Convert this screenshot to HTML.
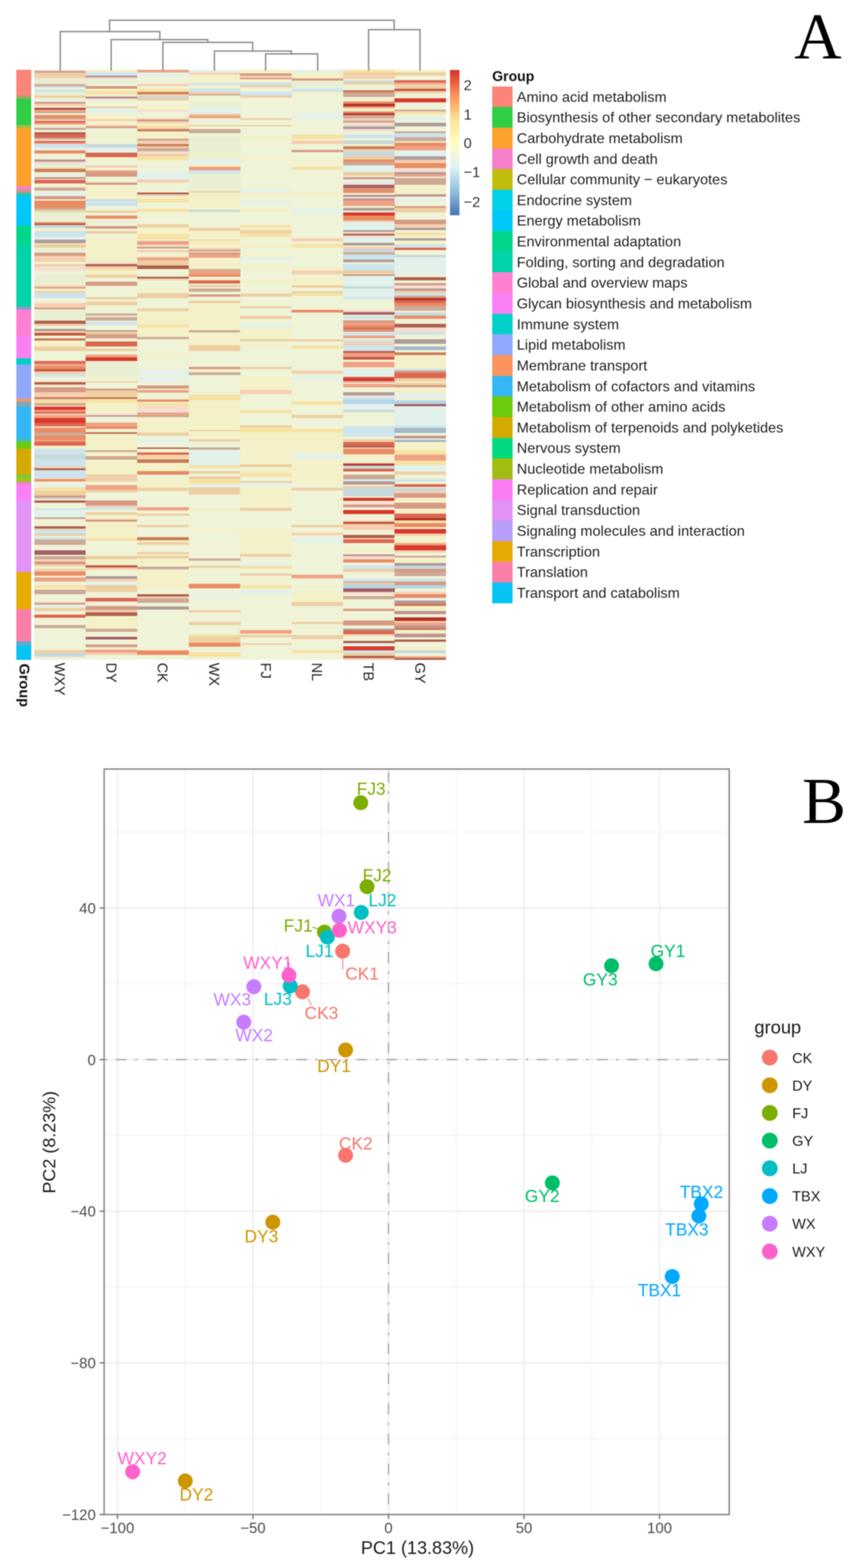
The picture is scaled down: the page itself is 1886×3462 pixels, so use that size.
<!DOCTYPE html><html><head><meta charset="utf-8"><title>Heatmap and PCA</title><style>html,body{margin:0;padding:0;background:#fff;}body{width:1886px;height:3462px;overflow:hidden;}</style></head><body><svg width="1886" height="3462" viewBox="0 0 1886 3462" style="display:block;filter:blur(1px)">
<rect x="0" y="0" width="1886" height="3462" fill="#ffffff"/>
<rect x="75.5" y="154.4" width="909.5" height="1302.1" fill="#EFF3D7"/>
<g shape-rendering="crispEdges"><rect x="75.50" y="154.40" width="113.99" height="3.14" fill="#F5DDD0"/><rect x="75.50" y="157.24" width="113.99" height="3.54" fill="#BE9393"/><rect x="75.50" y="160.49" width="113.99" height="5.16" fill="#EDCFA2"/><rect x="75.50" y="165.35" width="113.99" height="8.41" fill="#F6CFB0"/><rect x="75.50" y="173.46" width="113.99" height="10.03" fill="#E9EFD3"/><rect x="75.50" y="183.18" width="113.99" height="3.54" fill="#F5DDD0"/><rect x="75.50" y="186.43" width="113.99" height="3.54" fill="#CDAA96"/><rect x="75.50" y="189.67" width="113.99" height="3.54" fill="#C6D8DA"/><rect x="75.50" y="197.77" width="113.99" height="5.16" fill="#CDE4EC"/><rect x="75.50" y="202.64" width="113.99" height="8.41" fill="#E9EFD3"/><rect x="75.50" y="210.74" width="113.99" height="5.16" fill="#EDCFA2"/><rect x="75.50" y="215.61" width="113.99" height="3.54" fill="#F4F1C9"/><rect x="75.50" y="218.85" width="113.99" height="6.79" fill="#E3F1EB"/><rect x="75.50" y="225.34" width="113.99" height="4.19" fill="#D69A84"/><rect x="75.50" y="229.23" width="113.99" height="4.52" fill="#F6CFB0"/><rect x="75.50" y="236.68" width="113.99" height="2.57" fill="#CDAA96"/><rect x="75.50" y="238.95" width="113.99" height="3.54" fill="#B3322A"/><rect x="75.50" y="242.20" width="113.99" height="4.52" fill="#EFA283"/><rect x="75.50" y="246.41" width="113.99" height="3.54" fill="#CDAA96"/><rect x="75.50" y="253.55" width="113.99" height="7.76" fill="#E98C64"/><rect x="75.50" y="261.00" width="113.99" height="3.54" fill="#CDAA96"/><rect x="75.50" y="264.25" width="113.99" height="3.54" fill="#F6CFB0"/><rect x="75.50" y="267.49" width="113.99" height="4.19" fill="#DD6650"/><rect x="75.50" y="271.38" width="113.99" height="3.87" fill="#EFA283"/><rect x="75.50" y="274.95" width="113.99" height="7.43" fill="#E9EFD3"/><rect x="75.50" y="282.08" width="113.99" height="5.16" fill="#CDAA96"/><rect x="75.50" y="291.81" width="113.99" height="5.16" fill="#B0604C"/><rect x="75.50" y="296.67" width="113.99" height="7.43" fill="#DD6650"/><rect x="75.50" y="303.81" width="113.99" height="4.52" fill="#CDAA96"/><rect x="75.50" y="311.26" width="113.99" height="4.19" fill="#DD6650"/><rect x="75.50" y="315.15" width="113.99" height="2.89" fill="#EFA283"/><rect x="75.50" y="317.75" width="113.99" height="8.41" fill="#CDE4EC"/><rect x="75.50" y="325.85" width="113.99" height="6.79" fill="#E3F1EB"/><rect x="75.50" y="332.34" width="113.99" height="6.79" fill="#E98C64"/><rect x="75.50" y="351.80" width="113.99" height="5.16" fill="#BE9393"/><rect x="75.50" y="356.66" width="113.99" height="5.16" fill="#F5DDD0"/><rect x="75.50" y="361.52" width="113.99" height="8.41" fill="#E9EFD3"/><rect x="75.50" y="369.63" width="113.99" height="3.54" fill="#F6CFB0"/><rect x="75.50" y="372.87" width="113.99" height="7.43" fill="#C87C58"/><rect x="189.19" y="154.40" width="113.99" height="6.39" fill="#F4F1C9"/><rect x="189.19" y="160.49" width="113.99" height="6.79" fill="#CDE4EC"/><rect x="189.19" y="166.97" width="113.99" height="4.19" fill="#BE9393"/><rect x="189.19" y="170.86" width="113.99" height="4.52" fill="#F5DDD0"/><rect x="189.19" y="175.08" width="113.99" height="10.03" fill="#E9EFD3"/><rect x="189.19" y="189.67" width="113.99" height="6.79" fill="#D69A84"/><rect x="189.19" y="196.15" width="113.99" height="5.16" fill="#F4F1C9"/><rect x="189.19" y="201.02" width="113.99" height="8.41" fill="#F7E2A4"/><rect x="189.19" y="213.01" width="113.99" height="4.52" fill="#BE9393"/><rect x="189.19" y="235.06" width="113.99" height="4.19" fill="#EDCFA2"/><rect x="189.19" y="238.95" width="113.99" height="12.62" fill="#E3F1EB"/><rect x="189.19" y="251.28" width="113.99" height="11.65" fill="#F4F1C9"/><rect x="189.19" y="262.63" width="113.99" height="5.16" fill="#F6CFB0"/><rect x="189.19" y="267.49" width="113.99" height="8.41" fill="#F4F1C9"/><rect x="189.19" y="275.60" width="113.99" height="3.54" fill="#F6CFB0"/><rect x="189.19" y="278.84" width="113.99" height="4.19" fill="#D69A84"/><rect x="189.19" y="296.67" width="113.99" height="6.79" fill="#F4F1C9"/><rect x="189.19" y="317.75" width="113.99" height="8.41" fill="#C6D8DA"/><rect x="189.19" y="325.85" width="113.99" height="11.65" fill="#E3F1EB"/><rect x="189.19" y="337.20" width="113.99" height="10.03" fill="#DD6650"/><rect x="189.19" y="346.93" width="113.99" height="5.16" fill="#F4F1C9"/><rect x="189.19" y="364.77" width="113.99" height="5.16" fill="#F6CFB0"/><rect x="189.19" y="376.11" width="113.99" height="4.19" fill="#EFA283"/><rect x="302.88" y="154.40" width="113.99" height="6.39" fill="#EFA283"/><rect x="302.88" y="160.49" width="113.99" height="8.41" fill="#E3F1EB"/><rect x="302.88" y="184.80" width="113.99" height="5.16" fill="#F6CFB0"/><rect x="302.88" y="196.15" width="113.99" height="6.79" fill="#F7E2A4"/><rect x="302.88" y="202.64" width="113.99" height="5.16" fill="#C87C58"/><rect x="302.88" y="207.50" width="113.99" height="5.16" fill="#F6CFB0"/><rect x="302.88" y="212.37" width="113.99" height="4.19" fill="#C6D8DA"/><rect x="302.88" y="216.26" width="113.99" height="6.14" fill="#EDCFA2"/><rect x="302.88" y="231.82" width="113.99" height="10.03" fill="#F4F1C9"/><rect x="302.88" y="241.55" width="113.99" height="5.16" fill="#F5DDD0"/><rect x="302.88" y="261.00" width="113.99" height="3.54" fill="#F6CFB0"/><rect x="302.88" y="264.25" width="113.99" height="4.19" fill="#D69A84"/><rect x="302.88" y="268.14" width="113.99" height="4.52" fill="#F6CFB0"/><rect x="302.88" y="272.35" width="113.99" height="5.16" fill="#F4F1C9"/><rect x="302.88" y="277.22" width="113.99" height="5.16" fill="#F7E2A4"/><rect x="302.88" y="282.08" width="113.99" height="3.54" fill="#F6CFB0"/><rect x="302.88" y="285.32" width="113.99" height="4.52" fill="#C87C58"/><rect x="302.88" y="289.54" width="113.99" height="17.16" fill="#F4F1C9"/><rect x="302.88" y="306.40" width="113.99" height="5.16" fill="#CDAA96"/><rect x="302.88" y="311.26" width="113.99" height="6.79" fill="#F6CFB0"/><rect x="302.88" y="317.75" width="113.99" height="5.16" fill="#C87C58"/><rect x="302.88" y="322.61" width="113.99" height="5.16" fill="#F6CFB0"/><rect x="302.88" y="327.48" width="113.99" height="6.79" fill="#CDAA96"/><rect x="302.88" y="333.96" width="113.99" height="6.79" fill="#F5DDD0"/><rect x="302.88" y="340.45" width="113.99" height="5.16" fill="#EDCFA2"/><rect x="302.88" y="345.31" width="113.99" height="8.41" fill="#F7E2A4"/><rect x="416.56" y="154.40" width="113.99" height="6.39" fill="#E3F1EB"/><rect x="416.56" y="160.49" width="113.99" height="5.16" fill="#F6CFB0"/><rect x="416.56" y="165.35" width="113.99" height="18.13" fill="#F4F1C9"/><rect x="416.56" y="183.18" width="113.99" height="5.16" fill="#CDE4EC"/><rect x="416.56" y="188.05" width="113.99" height="6.79" fill="#F4F1C9"/><rect x="416.56" y="194.53" width="113.99" height="8.41" fill="#CDE4EC"/><rect x="416.56" y="202.64" width="113.99" height="5.16" fill="#EDCFA2"/><rect x="416.56" y="207.50" width="113.99" height="3.54" fill="#CDAA96"/><rect x="416.56" y="223.71" width="113.99" height="14.89" fill="#E9EFD3"/><rect x="416.56" y="238.31" width="113.99" height="13.27" fill="#E3F1EB"/><rect x="416.56" y="251.28" width="113.99" height="4.19" fill="#EDCFA2"/><rect x="416.56" y="255.17" width="113.99" height="6.14" fill="#EFA283"/><rect x="416.56" y="275.60" width="113.99" height="3.54" fill="#EDCFA2"/><rect x="416.56" y="285.32" width="113.99" height="8.41" fill="#CDAA96"/><rect x="416.56" y="303.16" width="113.99" height="39.21" fill="#E9EFD3"/><rect x="416.56" y="342.07" width="113.99" height="6.79" fill="#F4F1C9"/><rect x="416.56" y="348.55" width="113.99" height="13.27" fill="#E3F1EB"/><rect x="416.56" y="361.52" width="113.99" height="6.79" fill="#F4F1C9"/><rect x="416.56" y="368.01" width="113.99" height="8.41" fill="#EFA283"/><rect x="416.56" y="376.11" width="113.99" height="4.19" fill="#CDE4EC"/><rect x="530.25" y="154.40" width="113.99" height="8.01" fill="#F4F1C9"/><rect x="530.25" y="162.11" width="113.99" height="5.16" fill="#D69A84"/><rect x="530.25" y="166.97" width="113.99" height="5.16" fill="#F6CFB0"/><rect x="530.25" y="171.83" width="113.99" height="3.54" fill="#D69A84"/><rect x="530.25" y="175.08" width="113.99" height="6.79" fill="#F4F1C9"/><rect x="530.25" y="181.56" width="113.99" height="6.79" fill="#CDE4EC"/><rect x="530.25" y="188.05" width="113.99" height="5.16" fill="#EDCFA2"/><rect x="530.25" y="202.64" width="113.99" height="8.41" fill="#CDE4EC"/><rect x="530.25" y="210.74" width="113.99" height="5.16" fill="#EDCFA2"/><rect x="530.25" y="261.00" width="113.99" height="3.54" fill="#EDCFA2"/><rect x="530.25" y="275.60" width="113.99" height="3.54" fill="#EDCFA2"/><rect x="530.25" y="303.16" width="113.99" height="6.79" fill="#F4F1C9"/><rect x="530.25" y="348.55" width="113.99" height="5.16" fill="#F4F1C9"/><rect x="643.94" y="154.40" width="113.99" height="6.39" fill="#E3F1EB"/><rect x="643.94" y="160.49" width="113.99" height="13.27" fill="#F4F1C9"/><rect x="643.94" y="173.46" width="113.99" height="5.16" fill="#D69A84"/><rect x="643.94" y="178.32" width="113.99" height="18.13" fill="#E9EFD3"/><rect x="643.94" y="196.15" width="113.99" height="6.79" fill="#CDE4EC"/><rect x="643.94" y="202.64" width="113.99" height="6.79" fill="#F4F1C9"/><rect x="643.94" y="251.28" width="113.99" height="10.03" fill="#E3F1EB"/><rect x="643.94" y="296.67" width="113.99" height="10.03" fill="#F7E2A4"/><rect x="643.94" y="309.64" width="113.99" height="8.41" fill="#F6CFB0"/><rect x="643.94" y="330.72" width="113.99" height="5.16" fill="#D69A84"/><rect x="643.94" y="355.04" width="113.99" height="6.79" fill="#F4F1C9"/><rect x="643.94" y="368.01" width="113.99" height="6.79" fill="#F7E2A4"/><rect x="757.62" y="154.40" width="113.99" height="6.39" fill="#F7E2A4"/><rect x="757.62" y="160.49" width="113.99" height="5.16" fill="#EDCFA2"/><rect x="757.62" y="165.35" width="113.99" height="8.41" fill="#F6CFB0"/><rect x="757.62" y="178.32" width="113.99" height="3.54" fill="#C6D8DA"/><rect x="757.62" y="181.56" width="113.99" height="5.16" fill="#EDCFA2"/><rect x="757.62" y="199.40" width="113.99" height="5.16" fill="#C87C58"/><rect x="757.62" y="204.26" width="113.99" height="10.03" fill="#CDAA96"/><rect x="757.62" y="218.85" width="113.99" height="5.16" fill="#F4F1C9"/><rect x="757.62" y="223.71" width="113.99" height="5.16" fill="#E98C64"/><rect x="757.62" y="228.58" width="113.99" height="6.79" fill="#B3322A"/><rect x="757.62" y="235.06" width="113.99" height="4.19" fill="#EFA283"/><rect x="757.62" y="238.95" width="113.99" height="7.76" fill="#F4F1C9"/><rect x="757.62" y="246.41" width="113.99" height="3.54" fill="#E98C64"/><rect x="757.62" y="249.65" width="113.99" height="4.52" fill="#B3322A"/><rect x="757.62" y="253.87" width="113.99" height="7.43" fill="#CDAA96"/><rect x="757.62" y="261.00" width="113.99" height="5.16" fill="#F6CFB0"/><rect x="757.62" y="265.87" width="113.99" height="5.81" fill="#CDAA96"/><rect x="757.62" y="271.38" width="113.99" height="7.76" fill="#F5DDD0"/><rect x="757.62" y="278.84" width="113.99" height="6.79" fill="#AE9C98"/><rect x="757.62" y="285.32" width="113.99" height="5.16" fill="#F5DDD0"/><rect x="757.62" y="296.67" width="113.99" height="8.41" fill="#CDE4EC"/><rect x="757.62" y="309.64" width="113.99" height="8.41" fill="#C6D8DA"/><rect x="757.62" y="317.75" width="113.99" height="5.16" fill="#F4F1C9"/><rect x="757.62" y="322.61" width="113.99" height="6.79" fill="#C87C58"/><rect x="757.62" y="329.10" width="113.99" height="5.16" fill="#F6CFB0"/><rect x="757.62" y="333.96" width="113.99" height="11.65" fill="#C6D8DA"/><rect x="757.62" y="345.31" width="113.99" height="7.43" fill="#EDCFA2"/><rect x="757.62" y="352.44" width="113.99" height="6.14" fill="#E98C64"/><rect x="757.62" y="358.28" width="113.99" height="6.79" fill="#CDAA96"/><rect x="757.62" y="364.77" width="113.99" height="15.54" fill="#E3F1EB"/><rect x="871.31" y="154.40" width="113.99" height="6.39" fill="#F4F1C9"/><rect x="871.31" y="160.49" width="113.99" height="6.79" fill="#EDCFA2"/><rect x="871.31" y="176.70" width="113.99" height="5.16" fill="#DD6650"/><rect x="871.31" y="181.56" width="113.99" height="5.16" fill="#EFA283"/><rect x="871.31" y="186.43" width="113.99" height="5.16" fill="#F6CFB0"/><rect x="871.31" y="191.29" width="113.99" height="5.16" fill="#EDCFA2"/><rect x="871.31" y="196.15" width="113.99" height="5.16" fill="#C25A40"/><rect x="871.31" y="201.02" width="113.99" height="5.16" fill="#F6CFB0"/><rect x="871.31" y="217.23" width="113.99" height="8.41" fill="#D8392B"/><rect x="871.31" y="241.55" width="113.99" height="5.16" fill="#CDAA96"/><rect x="871.31" y="246.41" width="113.99" height="5.16" fill="#F7E2A4"/><rect x="871.31" y="257.76" width="113.99" height="8.41" fill="#E3F1EB"/><rect x="871.31" y="271.38" width="113.99" height="7.76" fill="#AE9C98"/><rect x="871.31" y="290.19" width="113.99" height="4.19" fill="#CDAA96"/><rect x="871.31" y="294.08" width="113.99" height="9.38" fill="#CDE4EC"/><rect x="871.31" y="303.16" width="113.99" height="8.41" fill="#CDAA96"/><rect x="871.31" y="315.15" width="113.99" height="7.76" fill="#E98C64"/><rect x="871.31" y="322.61" width="113.99" height="10.03" fill="#EFA283"/><rect x="871.31" y="332.34" width="113.99" height="13.27" fill="#E3F1EB"/><rect x="871.31" y="345.31" width="113.99" height="8.41" fill="#AE9C98"/><rect x="871.31" y="353.42" width="113.99" height="6.79" fill="#F6CFB0"/><rect x="871.31" y="359.90" width="113.99" height="11.65" fill="#E98C64"/><rect x="871.31" y="371.25" width="113.99" height="9.05" fill="#F5DDD0"/><rect x="75.50" y="380.00" width="113.99" height="3.54" fill="#F4F1C9"/><rect x="75.50" y="383.24" width="113.99" height="5.16" fill="#E3F1EB"/><rect x="75.50" y="391.35" width="113.99" height="3.54" fill="#BE9393"/><rect x="75.50" y="394.59" width="113.99" height="2.57" fill="#F5DDD0"/><rect x="75.50" y="396.86" width="113.99" height="7.76" fill="#DD6650"/><rect x="75.50" y="414.05" width="113.99" height="6.79" fill="#CDAA96"/><rect x="75.50" y="425.40" width="113.99" height="7.43" fill="#E3F1EB"/><rect x="75.50" y="432.53" width="113.99" height="7.76" fill="#D69A84"/><rect x="75.50" y="443.23" width="113.99" height="16.51" fill="#E98C64"/><rect x="75.50" y="459.44" width="113.99" height="3.54" fill="#CDAA96"/><rect x="75.50" y="462.68" width="113.99" height="5.16" fill="#EDCFA2"/><rect x="75.50" y="467.55" width="113.99" height="23.00" fill="#E9EFD3"/><rect x="75.50" y="490.25" width="113.99" height="2.89" fill="#EFA283"/><rect x="75.50" y="492.84" width="113.99" height="4.84" fill="#C25A40"/><rect x="75.50" y="497.38" width="113.99" height="5.49" fill="#C6D8DA"/><rect x="75.50" y="502.57" width="113.99" height="7.43" fill="#F4F1C9"/><rect x="75.50" y="509.70" width="113.99" height="13.27" fill="#CDE4EC"/><rect x="75.50" y="522.67" width="113.99" height="6.79" fill="#E3F1EB"/><rect x="75.50" y="529.16" width="113.99" height="7.43" fill="#AE9C98"/><rect x="75.50" y="538.88" width="113.99" height="8.41" fill="#EDCFA2"/><rect x="75.50" y="546.99" width="113.99" height="11.65" fill="#E9EFD3"/><rect x="75.50" y="558.34" width="113.99" height="6.79" fill="#D69A84"/><rect x="75.50" y="564.82" width="113.99" height="13.27" fill="#F6CFB0"/><rect x="75.50" y="582.66" width="113.99" height="5.16" fill="#EDCFA2"/><rect x="75.50" y="587.52" width="113.99" height="10.03" fill="#F5DDD0"/><rect x="189.19" y="380.00" width="113.99" height="10.03" fill="#D69A84"/><rect x="189.19" y="402.70" width="113.99" height="5.16" fill="#D69A84"/><rect x="189.19" y="407.56" width="113.99" height="32.73" fill="#F4F1C9"/><rect x="189.19" y="439.99" width="113.99" height="3.54" fill="#C6D8DA"/><rect x="189.19" y="443.23" width="113.99" height="11.65" fill="#CDE4EC"/><rect x="189.19" y="464.95" width="113.99" height="5.49" fill="#EDCFA2"/><rect x="189.19" y="475.65" width="113.99" height="7.76" fill="#E98C64"/><rect x="189.19" y="487.00" width="113.99" height="5.16" fill="#E9EFD3"/><rect x="189.19" y="499.33" width="113.99" height="5.81" fill="#D69A84"/><rect x="189.19" y="509.70" width="113.99" height="6.79" fill="#EDCFA2"/><rect x="189.19" y="524.29" width="113.99" height="53.80" fill="#F4F1C9"/><rect x="189.19" y="577.80" width="113.99" height="5.16" fill="#F5DDD0"/><rect x="189.19" y="582.66" width="113.99" height="5.16" fill="#B0604C"/><rect x="189.19" y="587.52" width="113.99" height="6.79" fill="#F6CFB0"/><rect x="189.19" y="594.01" width="113.99" height="3.54" fill="#F7E2A4"/><rect x="189.19" y="597.25" width="113.99" height="9.05" fill="#F4F1C9"/><rect x="302.88" y="380.00" width="113.99" height="16.51" fill="#E3F1EB"/><rect x="302.88" y="396.21" width="113.99" height="6.79" fill="#F6CFB0"/><rect x="302.88" y="425.40" width="113.99" height="4.19" fill="#B0604C"/><rect x="302.88" y="429.29" width="113.99" height="3.54" fill="#F6CFB0"/><rect x="302.88" y="438.37" width="113.99" height="8.41" fill="#F7E2A4"/><rect x="302.88" y="461.06" width="113.99" height="6.79" fill="#F7E2A4"/><rect x="302.88" y="495.11" width="113.99" height="6.79" fill="#EDCFA2"/><rect x="302.88" y="501.60" width="113.99" height="14.89" fill="#F4F1C9"/><rect x="302.88" y="516.19" width="113.99" height="13.27" fill="#F7E2A4"/><rect x="302.88" y="532.40" width="113.99" height="8.41" fill="#EFA283"/><rect x="302.88" y="543.75" width="113.99" height="5.16" fill="#CDAA96"/><rect x="302.88" y="551.85" width="113.99" height="5.16" fill="#F6CFB0"/><rect x="302.88" y="561.58" width="113.99" height="6.79" fill="#F4F1C9"/><rect x="302.88" y="568.07" width="113.99" height="6.79" fill="#EFA283"/><rect x="302.88" y="574.55" width="113.99" height="11.65" fill="#EDCFA2"/><rect x="302.88" y="585.90" width="113.99" height="8.41" fill="#B0604C"/><rect x="416.56" y="380.00" width="113.99" height="3.54" fill="#CDE4EC"/><rect x="416.56" y="383.24" width="113.99" height="39.21" fill="#E9EFD3"/><rect x="416.56" y="422.15" width="113.99" height="3.54" fill="#EDCFA2"/><rect x="416.56" y="425.40" width="113.99" height="37.59" fill="#F4F1C9"/><rect x="416.56" y="462.68" width="113.99" height="5.16" fill="#C6D8DA"/><rect x="416.56" y="503.22" width="113.99" height="6.79" fill="#EDCFA2"/><rect x="416.56" y="509.70" width="113.99" height="13.27" fill="#F4F1C9"/><rect x="416.56" y="527.54" width="113.99" height="6.79" fill="#F7E2A4"/><rect x="416.56" y="534.02" width="113.99" height="14.24" fill="#F4F1C9"/><rect x="416.56" y="547.96" width="113.99" height="3.22" fill="#F6CFB0"/><rect x="416.56" y="550.88" width="113.99" height="4.52" fill="#CDAA96"/><rect x="416.56" y="555.10" width="113.99" height="3.22" fill="#F6CFB0"/><rect x="416.56" y="558.02" width="113.99" height="4.19" fill="#D69A84"/><rect x="416.56" y="561.91" width="113.99" height="7.43" fill="#EFA283"/><rect x="416.56" y="569.04" width="113.99" height="5.81" fill="#F4F1C9"/><rect x="416.56" y="574.55" width="113.99" height="19.76" fill="#F4F1C9"/><rect x="416.56" y="594.01" width="113.99" height="4.19" fill="#CDAA96"/><rect x="416.56" y="597.90" width="113.99" height="8.41" fill="#EFA283"/><rect x="530.25" y="418.91" width="113.99" height="6.79" fill="#E3F1EB"/><rect x="530.25" y="425.40" width="113.99" height="6.79" fill="#F4F1C9"/><rect x="530.25" y="444.85" width="113.99" height="6.79" fill="#E3F1EB"/><rect x="530.25" y="461.06" width="113.99" height="6.79" fill="#F4F1C9"/><rect x="530.25" y="496.73" width="113.99" height="5.16" fill="#F7E2A4"/><rect x="530.25" y="501.60" width="113.99" height="6.79" fill="#F4F1C9"/><rect x="530.25" y="508.08" width="113.99" height="6.79" fill="#EDCFA2"/><rect x="530.25" y="514.57" width="113.99" height="8.41" fill="#F7E2A4"/><rect x="530.25" y="538.88" width="113.99" height="8.41" fill="#F4F1C9"/><rect x="530.25" y="561.58" width="113.99" height="6.79" fill="#F4F1C9"/><rect x="530.25" y="568.07" width="113.99" height="6.79" fill="#E3F1EB"/><rect x="530.25" y="587.52" width="113.99" height="6.79" fill="#F4F1C9"/><rect x="643.94" y="425.40" width="113.99" height="6.79" fill="#F4F1C9"/><rect x="643.94" y="461.06" width="113.99" height="10.03" fill="#E3F1EB"/><rect x="643.94" y="525.91" width="113.99" height="6.79" fill="#F6CFB0"/><rect x="643.94" y="538.88" width="113.99" height="8.41" fill="#F7E2A4"/><rect x="643.94" y="590.77" width="113.99" height="6.79" fill="#F4F1C9"/><rect x="643.94" y="597.25" width="113.99" height="9.05" fill="#F6CFB0"/><rect x="757.62" y="380.00" width="113.99" height="8.41" fill="#EDCFA2"/><rect x="757.62" y="391.35" width="113.99" height="5.16" fill="#D69A84"/><rect x="757.62" y="396.21" width="113.99" height="8.41" fill="#E3F1EB"/><rect x="757.62" y="404.32" width="113.99" height="3.54" fill="#F5DDD0"/><rect x="757.62" y="407.56" width="113.99" height="7.76" fill="#A56068"/><rect x="757.62" y="415.02" width="113.99" height="4.19" fill="#D69A84"/><rect x="757.62" y="418.91" width="113.99" height="6.79" fill="#E98C64"/><rect x="757.62" y="430.26" width="113.99" height="5.16" fill="#BE9393"/><rect x="757.62" y="438.37" width="113.99" height="5.16" fill="#BE9393"/><rect x="757.62" y="443.23" width="113.99" height="11.65" fill="#EFA283"/><rect x="757.62" y="459.44" width="113.99" height="5.81" fill="#AE9C98"/><rect x="757.62" y="469.17" width="113.99" height="6.79" fill="#D8392B"/><rect x="757.62" y="475.65" width="113.99" height="11.65" fill="#E98C64"/><rect x="757.62" y="487.00" width="113.99" height="3.54" fill="#F6CFB0"/><rect x="757.62" y="490.25" width="113.99" height="18.13" fill="#E3F1EB"/><rect x="757.62" y="508.08" width="113.99" height="4.52" fill="#AE9C98"/><rect x="757.62" y="512.30" width="113.99" height="4.19" fill="#F5DDD0"/><rect x="757.62" y="516.19" width="113.99" height="4.19" fill="#B0604C"/><rect x="757.62" y="520.08" width="113.99" height="4.52" fill="#F5DDD0"/><rect x="757.62" y="524.29" width="113.99" height="11.65" fill="#E3F1EB"/><rect x="757.62" y="535.64" width="113.99" height="6.79" fill="#AE9C98"/><rect x="757.62" y="545.37" width="113.99" height="5.16" fill="#F6CFB0"/><rect x="757.62" y="550.23" width="113.99" height="6.79" fill="#C6D8DA"/><rect x="757.62" y="556.72" width="113.99" height="5.16" fill="#CDAA96"/><rect x="757.62" y="561.58" width="113.99" height="11.65" fill="#CDE4EC"/><rect x="757.62" y="572.93" width="113.99" height="5.81" fill="#AE9C98"/><rect x="757.62" y="582.66" width="113.99" height="14.89" fill="#CDE4EC"/><rect x="757.62" y="597.25" width="113.99" height="9.05" fill="#EDCFA2"/><rect x="871.31" y="380.00" width="113.99" height="5.16" fill="#AE9C98"/><rect x="871.31" y="384.86" width="113.99" height="5.16" fill="#EFA283"/><rect x="871.31" y="392.97" width="113.99" height="5.16" fill="#CDAA96"/><rect x="871.31" y="397.83" width="113.99" height="10.03" fill="#CDAA96"/><rect x="871.31" y="407.56" width="113.99" height="21.38" fill="#F4F1C9"/><rect x="871.31" y="428.64" width="113.99" height="5.16" fill="#BE9393"/><rect x="871.31" y="439.99" width="113.99" height="5.16" fill="#E3F1EB"/><rect x="871.31" y="454.58" width="113.99" height="5.16" fill="#D69A84"/><rect x="871.31" y="459.44" width="113.99" height="10.03" fill="#EDCFA2"/><rect x="871.31" y="485.38" width="113.99" height="10.03" fill="#D69A84"/><rect x="871.31" y="495.11" width="113.99" height="8.41" fill="#F6CFB0"/><rect x="871.31" y="503.22" width="113.99" height="5.16" fill="#AE9C98"/><rect x="871.31" y="512.94" width="113.99" height="6.79" fill="#F7E2A4"/><rect x="871.31" y="519.43" width="113.99" height="6.79" fill="#F4F1C9"/><rect x="871.31" y="525.91" width="113.99" height="5.16" fill="#AE9C98"/><rect x="871.31" y="530.78" width="113.99" height="8.41" fill="#F4F1C9"/><rect x="871.31" y="538.88" width="113.99" height="8.41" fill="#CDE4EC"/><rect x="871.31" y="546.99" width="113.99" height="5.16" fill="#DD6650"/><rect x="871.31" y="563.20" width="113.99" height="5.16" fill="#C6D8DA"/><rect x="871.31" y="568.07" width="113.99" height="38.24" fill="#E3F1EB"/><rect x="75.50" y="606.00" width="113.99" height="24.62" fill="#E9EFD3"/><rect x="75.50" y="630.32" width="113.99" height="3.54" fill="#F6CFB0"/><rect x="75.50" y="633.56" width="113.99" height="3.54" fill="#D69A84"/><rect x="75.50" y="636.80" width="113.99" height="5.16" fill="#F4F1C9"/><rect x="75.50" y="641.67" width="113.99" height="5.16" fill="#F6CFB0"/><rect x="75.50" y="646.53" width="113.99" height="11.65" fill="#CDE4EC"/><rect x="75.50" y="669.23" width="113.99" height="10.03" fill="#F6CFB0"/><rect x="75.50" y="678.96" width="113.99" height="4.52" fill="#D69A84"/><rect x="75.50" y="683.17" width="113.99" height="25.27" fill="#E9EFD3"/><rect x="75.50" y="708.14" width="113.99" height="6.79" fill="#B0604C"/><rect x="75.50" y="714.63" width="113.99" height="5.16" fill="#F6CFB0"/><rect x="75.50" y="725.97" width="113.99" height="5.16" fill="#AE9C98"/><rect x="75.50" y="730.84" width="113.99" height="4.52" fill="#F6CFB0"/><rect x="75.50" y="735.05" width="113.99" height="5.81" fill="#C25A40"/><rect x="75.50" y="747.05" width="113.99" height="5.16" fill="#C87C58"/><rect x="75.50" y="751.91" width="113.99" height="13.27" fill="#F4F1C9"/><rect x="75.50" y="764.88" width="113.99" height="10.03" fill="#EDCFA2"/><rect x="75.50" y="797.31" width="113.99" height="6.14" fill="#DD6650"/><rect x="75.50" y="803.15" width="113.99" height="5.81" fill="#EFA283"/><rect x="75.50" y="808.66" width="113.99" height="6.79" fill="#E98C64"/><rect x="75.50" y="815.14" width="113.99" height="5.16" fill="#C25A40"/><rect x="75.50" y="820.01" width="113.99" height="6.79" fill="#F6CFB0"/><rect x="75.50" y="826.49" width="113.99" height="5.81" fill="#CDE4EC"/><rect x="189.19" y="606.00" width="113.99" height="6.79" fill="#EDCFA2"/><rect x="189.19" y="622.21" width="113.99" height="8.41" fill="#D69A84"/><rect x="189.19" y="656.26" width="113.99" height="5.16" fill="#EDCFA2"/><rect x="189.19" y="665.99" width="113.99" height="8.41" fill="#EDCFA2"/><rect x="189.19" y="691.93" width="113.99" height="5.16" fill="#CDAA96"/><rect x="189.19" y="700.03" width="113.99" height="8.41" fill="#CDAA96"/><rect x="189.19" y="711.38" width="113.99" height="6.79" fill="#CDE4EC"/><rect x="189.19" y="729.22" width="113.99" height="3.54" fill="#AE9C98"/><rect x="189.19" y="732.46" width="113.99" height="6.14" fill="#EDCFA2"/><rect x="189.19" y="738.30" width="113.99" height="9.05" fill="#D69A84"/><rect x="189.19" y="753.54" width="113.99" height="11.65" fill="#DD6650"/><rect x="189.19" y="769.75" width="113.99" height="5.16" fill="#EDCFA2"/><rect x="189.19" y="782.72" width="113.99" height="6.79" fill="#EFA283"/><rect x="189.19" y="789.20" width="113.99" height="8.41" fill="#D8392B"/><rect x="189.19" y="797.31" width="113.99" height="35.00" fill="#E9EFD3"/><rect x="302.88" y="610.86" width="113.99" height="4.52" fill="#B0604C"/><rect x="302.88" y="615.08" width="113.99" height="4.19" fill="#F6CFB0"/><rect x="302.88" y="633.56" width="113.99" height="8.41" fill="#F4F1C9"/><rect x="302.88" y="646.53" width="113.99" height="11.65" fill="#EDCFA2"/><rect x="302.88" y="680.58" width="113.99" height="6.79" fill="#EDCFA2"/><rect x="302.88" y="687.06" width="113.99" height="29.48" fill="#F4F1C9"/><rect x="302.88" y="716.25" width="113.99" height="6.79" fill="#F7E2A4"/><rect x="302.88" y="722.73" width="113.99" height="21.38" fill="#F4F1C9"/><rect x="302.88" y="743.81" width="113.99" height="5.16" fill="#CDAA96"/><rect x="302.88" y="781.10" width="113.99" height="6.79" fill="#F4F1C9"/><rect x="302.88" y="816.77" width="113.99" height="10.03" fill="#E3F1EB"/><rect x="416.56" y="606.00" width="113.99" height="5.16" fill="#E98C64"/><rect x="416.56" y="618.97" width="113.99" height="6.79" fill="#DD6650"/><rect x="416.56" y="628.70" width="113.99" height="5.16" fill="#EDCFA2"/><rect x="416.56" y="636.80" width="113.99" height="6.79" fill="#CDAA96"/><rect x="416.56" y="649.77" width="113.99" height="5.16" fill="#D69A84"/><rect x="416.56" y="664.37" width="113.99" height="5.16" fill="#EDCFA2"/><rect x="416.56" y="669.23" width="113.99" height="60.29" fill="#F4F1C9"/><rect x="416.56" y="729.22" width="113.99" height="5.16" fill="#CDAA96"/><rect x="416.56" y="734.08" width="113.99" height="27.86" fill="#F4F1C9"/><rect x="416.56" y="761.64" width="113.99" height="13.27" fill="#EDCFA2"/><rect x="416.56" y="810.28" width="113.99" height="5.16" fill="#D69A84"/><rect x="416.56" y="815.14" width="113.99" height="6.79" fill="#F4F1C9"/><rect x="416.56" y="821.63" width="113.99" height="6.79" fill="#CDAA96"/><rect x="530.25" y="618.97" width="113.99" height="6.79" fill="#F4F1C9"/><rect x="530.25" y="648.15" width="113.99" height="6.79" fill="#EDCFA2"/><rect x="530.25" y="675.71" width="113.99" height="4.52" fill="#EDCFA2"/><rect x="530.25" y="696.79" width="113.99" height="6.79" fill="#EDCFA2"/><rect x="530.25" y="716.25" width="113.99" height="6.79" fill="#E3F1EB"/><rect x="530.25" y="722.73" width="113.99" height="26.24" fill="#F4F1C9"/><rect x="530.25" y="748.67" width="113.99" height="5.16" fill="#EDCFA2"/><rect x="530.25" y="761.64" width="113.99" height="6.79" fill="#F4F1C9"/><rect x="530.25" y="810.28" width="113.99" height="5.16" fill="#EDCFA2"/><rect x="643.94" y="610.86" width="113.99" height="19.76" fill="#F4F1C9"/><rect x="643.94" y="630.32" width="113.99" height="5.16" fill="#EDCFA2"/><rect x="643.94" y="643.29" width="113.99" height="3.54" fill="#EDCFA2"/><rect x="643.94" y="646.53" width="113.99" height="6.79" fill="#F7E2A4"/><rect x="643.94" y="683.82" width="113.99" height="6.14" fill="#E98C64"/><rect x="643.94" y="748.67" width="113.99" height="5.16" fill="#EDCFA2"/><rect x="643.94" y="763.26" width="113.99" height="6.79" fill="#F7E2A4"/><rect x="643.94" y="818.39" width="113.99" height="6.79" fill="#F6CFB0"/><rect x="757.62" y="606.00" width="113.99" height="3.54" fill="#BE9393"/><rect x="757.62" y="609.24" width="113.99" height="23.00" fill="#E3F1EB"/><rect x="757.62" y="631.94" width="113.99" height="5.16" fill="#C6D8DA"/><rect x="757.62" y="636.80" width="113.99" height="18.13" fill="#E3F1EB"/><rect x="757.62" y="654.64" width="113.99" height="5.16" fill="#CDE4EC"/><rect x="757.62" y="683.82" width="113.99" height="5.16" fill="#F5DDD0"/><rect x="757.62" y="688.68" width="113.99" height="6.79" fill="#A56068"/><rect x="757.62" y="698.41" width="113.99" height="5.16" fill="#CDE4EC"/><rect x="757.62" y="706.52" width="113.99" height="6.79" fill="#D69A84"/><rect x="757.62" y="713.00" width="113.99" height="5.16" fill="#EFA283"/><rect x="757.62" y="717.87" width="113.99" height="5.16" fill="#E98C64"/><rect x="757.62" y="722.73" width="113.99" height="4.19" fill="#DD6650"/><rect x="757.62" y="726.62" width="113.99" height="6.14" fill="#D69A84"/><rect x="757.62" y="735.05" width="113.99" height="5.81" fill="#CDE4EC"/><rect x="757.62" y="740.57" width="113.99" height="6.79" fill="#EFA283"/><rect x="757.62" y="750.29" width="113.99" height="5.16" fill="#CDE4EC"/><rect x="757.62" y="755.16" width="113.99" height="6.79" fill="#F6CFB0"/><rect x="757.62" y="761.64" width="113.99" height="13.27" fill="#CDE4EC"/><rect x="757.62" y="774.61" width="113.99" height="5.16" fill="#C25A40"/><rect x="757.62" y="779.48" width="113.99" height="8.41" fill="#EFA283"/><rect x="757.62" y="787.58" width="113.99" height="6.79" fill="#C25A40"/><rect x="757.62" y="798.93" width="113.99" height="11.65" fill="#EFA283"/><rect x="757.62" y="815.14" width="113.99" height="17.16" fill="#E3F1EB"/><rect x="871.31" y="612.49" width="113.99" height="6.79" fill="#B0604C"/><rect x="871.31" y="625.46" width="113.99" height="5.16" fill="#D69A84"/><rect x="871.31" y="630.32" width="113.99" height="6.79" fill="#F5DDD0"/><rect x="871.31" y="636.80" width="113.99" height="5.16" fill="#BE9393"/><rect x="871.31" y="641.67" width="113.99" height="5.16" fill="#EDCFA2"/><rect x="871.31" y="646.53" width="113.99" height="6.79" fill="#CDE4EC"/><rect x="871.31" y="653.02" width="113.99" height="5.16" fill="#D69A84"/><rect x="871.31" y="657.88" width="113.99" height="5.16" fill="#B3322A"/><rect x="871.31" y="662.74" width="113.99" height="6.79" fill="#DD6650"/><rect x="871.31" y="669.23" width="113.99" height="6.79" fill="#E98C64"/><rect x="871.31" y="675.71" width="113.99" height="10.03" fill="#CDAA96"/><rect x="871.31" y="690.31" width="113.99" height="6.79" fill="#C6D8DA"/><rect x="871.31" y="696.79" width="113.99" height="6.79" fill="#E98C64"/><rect x="871.31" y="714.63" width="113.99" height="8.41" fill="#B0604C"/><rect x="871.31" y="722.73" width="113.99" height="11.65" fill="#F5DDD0"/><rect x="871.31" y="734.08" width="113.99" height="5.16" fill="#CDE4EC"/><rect x="871.31" y="748.67" width="113.99" height="10.03" fill="#AE9C98"/><rect x="871.31" y="764.88" width="113.99" height="8.41" fill="#A4B8C8"/><rect x="871.31" y="777.85" width="113.99" height="6.14" fill="#C87C58"/><rect x="871.31" y="783.69" width="113.99" height="30.13" fill="#F4F1C9"/><rect x="871.31" y="813.52" width="113.99" height="5.16" fill="#CDE4EC"/><rect x="871.31" y="818.39" width="113.99" height="5.16" fill="#D69A84"/><rect x="871.31" y="823.25" width="113.99" height="9.05" fill="#DD6650"/><rect x="75.50" y="841.73" width="113.99" height="2.89" fill="#F6CFB0"/><rect x="75.50" y="844.32" width="113.99" height="4.84" fill="#B0604C"/><rect x="75.50" y="848.86" width="113.99" height="2.89" fill="#F5DDD0"/><rect x="75.50" y="855.35" width="113.99" height="11.00" fill="#D69A84"/><rect x="75.50" y="866.05" width="113.99" height="3.54" fill="#F6CFB0"/><rect x="75.50" y="869.29" width="113.99" height="8.41" fill="#F6CFB0"/><rect x="75.50" y="877.40" width="113.99" height="3.54" fill="#C87C58"/><rect x="75.50" y="880.64" width="113.99" height="3.54" fill="#F6CFB0"/><rect x="75.50" y="883.88" width="113.99" height="6.79" fill="#F7E2A4"/><rect x="75.50" y="890.37" width="113.99" height="5.16" fill="#CDAA96"/><rect x="75.50" y="895.23" width="113.99" height="3.54" fill="#F6CFB0"/><rect x="75.50" y="898.47" width="113.99" height="6.79" fill="#D8392B"/><rect x="75.50" y="904.96" width="113.99" height="4.52" fill="#EFA283"/><rect x="75.50" y="909.17" width="113.99" height="4.19" fill="#DD6650"/><rect x="75.50" y="913.06" width="113.99" height="4.19" fill="#F6CFB0"/><rect x="75.50" y="916.95" width="113.99" height="6.14" fill="#EFA283"/><rect x="75.50" y="922.79" width="113.99" height="11.65" fill="#D8392B"/><rect x="75.50" y="934.14" width="113.99" height="6.79" fill="#DD6650"/><rect x="75.50" y="940.63" width="113.99" height="5.16" fill="#F6CFB0"/><rect x="75.50" y="945.49" width="113.99" height="10.03" fill="#E98C64"/><rect x="75.50" y="955.22" width="113.99" height="6.79" fill="#CDAA96"/><rect x="75.50" y="961.70" width="113.99" height="10.03" fill="#E98C64"/><rect x="75.50" y="971.43" width="113.99" height="3.54" fill="#EFA283"/><rect x="75.50" y="974.67" width="113.99" height="10.03" fill="#DD6650"/><rect x="75.50" y="984.40" width="113.99" height="6.79" fill="#F4F1C9"/><rect x="75.50" y="990.88" width="113.99" height="13.27" fill="#CDE4EC"/><rect x="75.50" y="1003.85" width="113.99" height="10.03" fill="#C6D8DA"/><rect x="75.50" y="1013.58" width="113.99" height="16.51" fill="#CDE4EC"/><rect x="75.50" y="1029.80" width="113.99" height="4.19" fill="#F6CFB0"/><rect x="75.50" y="1033.69" width="113.99" height="4.52" fill="#B0604C"/><rect x="75.50" y="1037.90" width="113.99" height="18.13" fill="#CDE4EC"/><rect x="75.50" y="1055.74" width="113.99" height="2.57" fill="#F6CFB0"/><rect x="189.19" y="832.00" width="113.99" height="6.79" fill="#F4F1C9"/><rect x="189.19" y="841.73" width="113.99" height="3.54" fill="#EDCFA2"/><rect x="189.19" y="857.94" width="113.99" height="4.19" fill="#D69A84"/><rect x="189.19" y="861.83" width="113.99" height="7.76" fill="#EDCFA2"/><rect x="189.19" y="869.29" width="113.99" height="8.41" fill="#EDCFA2"/><rect x="189.19" y="877.40" width="113.99" height="3.54" fill="#C87C58"/><rect x="189.19" y="880.64" width="113.99" height="8.41" fill="#F7E2A4"/><rect x="189.19" y="888.74" width="113.99" height="24.62" fill="#F4F1C9"/><rect x="189.19" y="913.06" width="113.99" height="4.19" fill="#F5DDD0"/><rect x="189.19" y="916.95" width="113.99" height="3.54" fill="#BE9393"/><rect x="189.19" y="932.52" width="113.99" height="10.03" fill="#EFA283"/><rect x="189.19" y="942.25" width="113.99" height="5.16" fill="#E98C64"/><rect x="189.19" y="953.60" width="113.99" height="5.16" fill="#C87C58"/><rect x="189.19" y="958.46" width="113.99" height="35.97" fill="#F4F1C9"/><rect x="189.19" y="994.13" width="113.99" height="4.19" fill="#CDAA96"/><rect x="189.19" y="998.02" width="113.99" height="9.38" fill="#F4F1C9"/><rect x="189.19" y="1007.10" width="113.99" height="8.41" fill="#CDAA96"/><rect x="189.19" y="1015.20" width="113.99" height="32.73" fill="#F4F1C9"/><rect x="189.19" y="1047.63" width="113.99" height="5.16" fill="#EDCFA2"/><rect x="189.19" y="1052.49" width="113.99" height="5.81" fill="#F6CFB0"/><rect x="302.88" y="832.00" width="113.99" height="10.03" fill="#E3F1EB"/><rect x="302.88" y="851.46" width="113.99" height="6.79" fill="#D69A84"/><rect x="302.88" y="861.18" width="113.99" height="6.14" fill="#EFA283"/><rect x="302.88" y="882.26" width="113.99" height="5.16" fill="#E98C64"/><rect x="302.88" y="890.37" width="113.99" height="6.79" fill="#F7E2A4"/><rect x="302.88" y="896.85" width="113.99" height="14.89" fill="#F5DDD0"/><rect x="302.88" y="911.44" width="113.99" height="4.52" fill="#EFA283"/><rect x="302.88" y="915.66" width="113.99" height="5.81" fill="#CDAA96"/><rect x="302.88" y="921.17" width="113.99" height="34.35" fill="#F4F1C9"/><rect x="302.88" y="955.22" width="113.99" height="6.79" fill="#EDCFA2"/><rect x="302.88" y="968.19" width="113.99" height="8.41" fill="#E3F1EB"/><rect x="302.88" y="987.64" width="113.99" height="3.54" fill="#A56068"/><rect x="302.88" y="990.88" width="113.99" height="8.41" fill="#F4F1C9"/><rect x="302.88" y="998.99" width="113.99" height="5.16" fill="#DD6650"/><rect x="302.88" y="1003.85" width="113.99" height="6.14" fill="#F6CFB0"/><rect x="302.88" y="1009.69" width="113.99" height="4.19" fill="#F7E2A4"/><rect x="302.88" y="1013.58" width="113.99" height="8.41" fill="#C87C58"/><rect x="302.88" y="1021.69" width="113.99" height="18.13" fill="#F4F1C9"/><rect x="302.88" y="1039.52" width="113.99" height="8.41" fill="#E98C64"/><rect x="416.56" y="870.91" width="113.99" height="13.27" fill="#F7E2A4"/><rect x="416.56" y="883.88" width="113.99" height="65.15" fill="#F4F1C9"/><rect x="416.56" y="948.73" width="113.99" height="3.54" fill="#EDCFA2"/><rect x="416.56" y="951.97" width="113.99" height="18.13" fill="#F4F1C9"/><rect x="416.56" y="969.81" width="113.99" height="5.16" fill="#EDCFA2"/><rect x="416.56" y="987.64" width="113.99" height="6.14" fill="#CDAA96"/><rect x="416.56" y="993.48" width="113.99" height="33.37" fill="#E3F1EB"/><rect x="416.56" y="1026.55" width="113.99" height="6.79" fill="#F7E2A4"/><rect x="416.56" y="1039.52" width="113.99" height="6.79" fill="#EDCFA2"/><rect x="416.56" y="1052.49" width="113.99" height="5.81" fill="#EDCFA2"/><rect x="530.25" y="832.00" width="113.99" height="29.48" fill="#F4F1C9"/><rect x="530.25" y="861.18" width="113.99" height="8.41" fill="#F6CFB0"/><rect x="530.25" y="904.96" width="113.99" height="6.79" fill="#F7E2A4"/><rect x="530.25" y="939.00" width="113.99" height="5.16" fill="#EDCFA2"/><rect x="530.25" y="943.87" width="113.99" height="11.65" fill="#F7E2A4"/><rect x="530.25" y="955.22" width="113.99" height="70.01" fill="#F4F1C9"/><rect x="530.25" y="1024.93" width="113.99" height="6.79" fill="#EDCFA2"/><rect x="530.25" y="1031.42" width="113.99" height="13.27" fill="#F4F1C9"/><rect x="530.25" y="1044.39" width="113.99" height="8.41" fill="#F7E2A4"/><rect x="643.94" y="832.00" width="113.99" height="6.79" fill="#E3F1EB"/><rect x="643.94" y="885.50" width="113.99" height="8.41" fill="#F7E2A4"/><rect x="643.94" y="916.31" width="113.99" height="6.79" fill="#EDCFA2"/><rect x="643.94" y="947.11" width="113.99" height="8.41" fill="#F7E2A4"/><rect x="643.94" y="955.22" width="113.99" height="45.70" fill="#F4F1C9"/><rect x="643.94" y="1000.61" width="113.99" height="13.27" fill="#E3F1EB"/><rect x="643.94" y="1013.58" width="113.99" height="44.72" fill="#F4F1C9"/><rect x="757.62" y="832.00" width="113.99" height="3.54" fill="#DD6650"/><rect x="757.62" y="835.24" width="113.99" height="6.14" fill="#D8392B"/><rect x="757.62" y="841.08" width="113.99" height="3.54" fill="#D69A84"/><rect x="757.62" y="844.32" width="113.99" height="3.54" fill="#F5DDD0"/><rect x="757.62" y="847.56" width="113.99" height="7.43" fill="#EFA283"/><rect x="757.62" y="866.05" width="113.99" height="6.79" fill="#AE9C98"/><rect x="757.62" y="872.53" width="113.99" height="5.16" fill="#F5DDD0"/><rect x="757.62" y="877.40" width="113.99" height="5.16" fill="#CDE4EC"/><rect x="757.62" y="882.26" width="113.99" height="10.03" fill="#B4D6EA"/><rect x="757.62" y="891.99" width="113.99" height="13.27" fill="#E3F1EB"/><rect x="757.62" y="904.96" width="113.99" height="5.16" fill="#C6D8DA"/><rect x="757.62" y="940.63" width="113.99" height="23.00" fill="#CDE4EC"/><rect x="757.62" y="969.81" width="113.99" height="6.79" fill="#EDCFA2"/><rect x="757.62" y="976.29" width="113.99" height="8.41" fill="#DD6650"/><rect x="757.62" y="984.40" width="113.99" height="3.54" fill="#B0604C"/><rect x="757.62" y="987.64" width="113.99" height="3.54" fill="#F6CFB0"/><rect x="757.62" y="990.88" width="113.99" height="11.65" fill="#E98C64"/><rect x="757.62" y="1005.48" width="113.99" height="11.65" fill="#F4F1C9"/><rect x="757.62" y="1021.69" width="113.99" height="2.57" fill="#EFA283"/><rect x="757.62" y="1023.96" width="113.99" height="4.52" fill="#B3322A"/><rect x="757.62" y="1028.17" width="113.99" height="6.79" fill="#C6D8DA"/><rect x="757.62" y="1034.66" width="113.99" height="6.79" fill="#DD6650"/><rect x="757.62" y="1047.63" width="113.99" height="10.68" fill="#CDAA96"/><rect x="871.31" y="832.00" width="113.99" height="3.54" fill="#DD6650"/><rect x="871.31" y="835.24" width="113.99" height="6.79" fill="#EDCFA2"/><rect x="871.31" y="844.97" width="113.99" height="5.16" fill="#EDCFA2"/><rect x="871.31" y="849.83" width="113.99" height="5.16" fill="#D69A84"/><rect x="871.31" y="854.70" width="113.99" height="13.27" fill="#F4F1C9"/><rect x="871.31" y="867.67" width="113.99" height="11.65" fill="#E3F1EB"/><rect x="871.31" y="879.02" width="113.99" height="5.16" fill="#F4F1C9"/><rect x="871.31" y="883.88" width="113.99" height="8.41" fill="#B4D6EA"/><rect x="871.31" y="891.99" width="113.99" height="5.16" fill="#A56068"/><rect x="871.31" y="896.85" width="113.99" height="42.45" fill="#E3F1EB"/><rect x="871.31" y="939.00" width="113.99" height="6.79" fill="#CDE4EC"/><rect x="871.31" y="945.49" width="113.99" height="10.03" fill="#A4B8C8"/><rect x="871.31" y="961.70" width="113.99" height="6.79" fill="#BE9393"/><rect x="871.31" y="971.43" width="113.99" height="5.16" fill="#A4B8C8"/><rect x="871.31" y="976.29" width="113.99" height="18.13" fill="#F4F1C9"/><rect x="871.31" y="994.13" width="113.99" height="10.03" fill="#F7E2A4"/><rect x="871.31" y="1003.85" width="113.99" height="6.79" fill="#EFA283"/><rect x="871.31" y="1010.34" width="113.99" height="6.79" fill="#EFA283"/><rect x="871.31" y="1016.82" width="113.99" height="5.16" fill="#F7E2A4"/><rect x="871.31" y="1021.69" width="113.99" height="5.16" fill="#F7E2A4"/><rect x="871.31" y="1026.55" width="113.99" height="14.89" fill="#E3F1EB"/><rect x="871.31" y="1041.14" width="113.99" height="6.79" fill="#EDCFA2"/><rect x="75.50" y="1058.00" width="113.99" height="5.16" fill="#E98C64"/><rect x="75.50" y="1069.35" width="113.99" height="6.79" fill="#E3F1EB"/><rect x="75.50" y="1075.83" width="113.99" height="8.41" fill="#F7E2A4"/><rect x="75.50" y="1083.94" width="113.99" height="10.03" fill="#EDCFA2"/><rect x="75.50" y="1093.67" width="113.99" height="5.16" fill="#D69A84"/><rect x="75.50" y="1098.53" width="113.99" height="3.54" fill="#C6D8DA"/><rect x="75.50" y="1105.02" width="113.99" height="5.16" fill="#B0604C"/><rect x="75.50" y="1122.85" width="113.99" height="2.89" fill="#C6D8DA"/><rect x="75.50" y="1125.44" width="113.99" height="17.16" fill="#E3F1EB"/><rect x="75.50" y="1142.31" width="113.99" height="3.54" fill="#CDAA96"/><rect x="75.50" y="1161.76" width="113.99" height="5.16" fill="#B0604C"/><rect x="75.50" y="1166.63" width="113.99" height="3.54" fill="#F6CFB0"/><rect x="75.50" y="1169.87" width="113.99" height="8.41" fill="#CDE4EC"/><rect x="75.50" y="1177.97" width="113.99" height="5.16" fill="#EDCFA2"/><rect x="75.50" y="1186.08" width="113.99" height="5.16" fill="#CDE4EC"/><rect x="75.50" y="1190.94" width="113.99" height="11.65" fill="#CDAA96"/><rect x="75.50" y="1215.26" width="113.99" height="10.03" fill="#A56068"/><rect x="75.50" y="1228.23" width="113.99" height="6.79" fill="#CDAA96"/><rect x="75.50" y="1234.72" width="113.99" height="5.16" fill="#F6CFB0"/><rect x="75.50" y="1239.58" width="113.99" height="6.79" fill="#D69A84"/><rect x="75.50" y="1246.07" width="113.99" height="5.16" fill="#F6CFB0"/><rect x="75.50" y="1255.80" width="113.99" height="6.79" fill="#EDCFA2"/><rect x="75.50" y="1262.28" width="113.99" height="8.41" fill="#E98C64"/><rect x="75.50" y="1275.25" width="113.99" height="9.05" fill="#EFA283"/><rect x="189.19" y="1058.00" width="113.99" height="5.16" fill="#EDCFA2"/><rect x="189.19" y="1070.97" width="113.99" height="10.03" fill="#EFA283"/><rect x="189.19" y="1080.70" width="113.99" height="6.79" fill="#EDCFA2"/><rect x="189.19" y="1105.02" width="113.99" height="11.65" fill="#D69A84"/><rect x="189.19" y="1116.37" width="113.99" height="3.54" fill="#F6CFB0"/><rect x="189.19" y="1119.61" width="113.99" height="5.16" fill="#CDE4EC"/><rect x="189.19" y="1130.96" width="113.99" height="6.79" fill="#EDCFA2"/><rect x="189.19" y="1137.44" width="113.99" height="10.03" fill="#F4F1C9"/><rect x="189.19" y="1147.17" width="113.99" height="5.16" fill="#D69A84"/><rect x="189.19" y="1152.03" width="113.99" height="35.97" fill="#F4F1C9"/><rect x="189.19" y="1187.70" width="113.99" height="6.79" fill="#F7E2A4"/><rect x="189.19" y="1226.61" width="113.99" height="8.41" fill="#EDCFA2"/><rect x="189.19" y="1234.72" width="113.99" height="13.27" fill="#F4F1C9"/><rect x="189.19" y="1247.69" width="113.99" height="5.16" fill="#C25A40"/><rect x="189.19" y="1252.55" width="113.99" height="5.16" fill="#F6CFB0"/><rect x="189.19" y="1272.01" width="113.99" height="6.79" fill="#AE9C98"/><rect x="189.19" y="1278.49" width="113.99" height="5.81" fill="#F6CFB0"/><rect x="302.88" y="1058.00" width="113.99" height="19.76" fill="#F4F1C9"/><rect x="302.88" y="1077.46" width="113.99" height="6.79" fill="#EDCFA2"/><rect x="302.88" y="1119.61" width="113.99" height="7.43" fill="#EFA283"/><rect x="302.88" y="1134.20" width="113.99" height="5.16" fill="#EDCFA2"/><rect x="302.88" y="1158.52" width="113.99" height="5.16" fill="#EDCFA2"/><rect x="302.88" y="1186.08" width="113.99" height="6.79" fill="#C87C58"/><rect x="302.88" y="1192.57" width="113.99" height="5.16" fill="#F4F1C9"/><rect x="302.88" y="1197.43" width="113.99" height="5.16" fill="#EDCFA2"/><rect x="302.88" y="1218.51" width="113.99" height="5.16" fill="#EDCFA2"/><rect x="302.88" y="1226.61" width="113.99" height="6.79" fill="#EDCFA2"/><rect x="302.88" y="1233.10" width="113.99" height="18.13" fill="#F4F1C9"/><rect x="302.88" y="1250.93" width="113.99" height="5.81" fill="#CDAA96"/><rect x="302.88" y="1260.66" width="113.99" height="23.65" fill="#F4F1C9"/><rect x="416.56" y="1058.00" width="113.99" height="11.65" fill="#F7E2A4"/><rect x="416.56" y="1069.35" width="113.99" height="6.79" fill="#E3F1EB"/><rect x="416.56" y="1075.83" width="113.99" height="8.41" fill="#EDCFA2"/><rect x="416.56" y="1083.94" width="113.99" height="8.41" fill="#EDCFA2"/><rect x="416.56" y="1122.85" width="113.99" height="5.16" fill="#F4F1C9"/><rect x="416.56" y="1165.00" width="113.99" height="5.16" fill="#F4F1C9"/><rect x="416.56" y="1233.10" width="113.99" height="5.16" fill="#CDAA96"/><rect x="416.56" y="1249.31" width="113.99" height="5.16" fill="#EDCFA2"/><rect x="530.25" y="1061.89" width="113.99" height="4.52" fill="#EDCFA2"/><rect x="530.25" y="1066.11" width="113.99" height="8.41" fill="#E3F1EB"/><rect x="530.25" y="1074.21" width="113.99" height="47.32" fill="#F4F1C9"/><rect x="530.25" y="1121.23" width="113.99" height="6.79" fill="#EDCFA2"/><rect x="530.25" y="1168.25" width="113.99" height="6.79" fill="#F4F1C9"/><rect x="530.25" y="1174.73" width="113.99" height="48.94" fill="#F4F1C9"/><rect x="530.25" y="1223.37" width="113.99" height="5.16" fill="#EDCFA2"/><rect x="530.25" y="1242.82" width="113.99" height="6.79" fill="#E3F1EB"/><rect x="530.25" y="1249.31" width="113.99" height="6.79" fill="#F7E2A4"/><rect x="530.25" y="1265.52" width="113.99" height="5.16" fill="#EDCFA2"/><rect x="530.25" y="1276.87" width="113.99" height="7.43" fill="#F4F1C9"/><rect x="643.94" y="1058.00" width="113.99" height="10.03" fill="#F4F1C9"/><rect x="643.94" y="1077.46" width="113.99" height="5.16" fill="#EDCFA2"/><rect x="643.94" y="1158.52" width="113.99" height="5.16" fill="#EDCFA2"/><rect x="643.94" y="1176.35" width="113.99" height="5.16" fill="#F6CFB0"/><rect x="643.94" y="1187.70" width="113.99" height="10.03" fill="#E3F1EB"/><rect x="643.94" y="1268.77" width="113.99" height="8.41" fill="#EFA283"/><rect x="757.62" y="1058.00" width="113.99" height="5.16" fill="#CDE4EC"/><rect x="757.62" y="1062.86" width="113.99" height="6.79" fill="#BE9393"/><rect x="757.62" y="1072.59" width="113.99" height="3.54" fill="#EDCFA2"/><rect x="757.62" y="1075.83" width="113.99" height="5.16" fill="#C6D8DA"/><rect x="757.62" y="1080.70" width="113.99" height="11.65" fill="#C6D8DA"/><rect x="757.62" y="1092.05" width="113.99" height="3.54" fill="#C6D8DA"/><rect x="757.62" y="1098.53" width="113.99" height="7.76" fill="#D8392B"/><rect x="757.62" y="1109.88" width="113.99" height="4.19" fill="#F5DDD0"/><rect x="757.62" y="1113.77" width="113.99" height="6.14" fill="#D69A84"/><rect x="757.62" y="1126.09" width="113.99" height="8.41" fill="#D8392B"/><rect x="757.62" y="1148.79" width="113.99" height="3.54" fill="#F6CFB0"/><rect x="757.62" y="1152.03" width="113.99" height="5.16" fill="#C25A40"/><rect x="757.62" y="1156.90" width="113.99" height="3.54" fill="#F6CFB0"/><rect x="757.62" y="1160.14" width="113.99" height="10.03" fill="#F6CFB0"/><rect x="757.62" y="1181.22" width="113.99" height="6.79" fill="#B0604C"/><rect x="757.62" y="1187.70" width="113.99" height="3.54" fill="#F6CFB0"/><rect x="757.62" y="1190.94" width="113.99" height="8.41" fill="#DD6650"/><rect x="757.62" y="1210.40" width="113.99" height="10.03" fill="#F4F1C9"/><rect x="757.62" y="1224.02" width="113.99" height="4.52" fill="#BE9393"/><rect x="757.62" y="1228.23" width="113.99" height="6.79" fill="#F5DDD0"/><rect x="757.62" y="1234.72" width="113.99" height="6.79" fill="#E98C64"/><rect x="757.62" y="1247.69" width="113.99" height="9.05" fill="#CDE4EC"/><rect x="757.62" y="1256.44" width="113.99" height="6.79" fill="#EDCFA2"/><rect x="757.62" y="1278.49" width="113.99" height="5.81" fill="#CDE4EC"/><rect x="871.31" y="1058.00" width="113.99" height="5.16" fill="#CDE4EC"/><rect x="871.31" y="1069.35" width="113.99" height="5.16" fill="#DD6650"/><rect x="871.31" y="1077.46" width="113.99" height="6.79" fill="#C6D8DA"/><rect x="871.31" y="1083.94" width="113.99" height="5.16" fill="#F6CFB0"/><rect x="871.31" y="1088.80" width="113.99" height="10.03" fill="#D69A84"/><rect x="871.31" y="1098.53" width="113.99" height="11.65" fill="#F4F1C9"/><rect x="871.31" y="1109.88" width="113.99" height="13.27" fill="#D69A84"/><rect x="871.31" y="1122.85" width="113.99" height="11.65" fill="#F4F1C9"/><rect x="871.31" y="1134.20" width="113.99" height="10.03" fill="#DD6650"/><rect x="871.31" y="1143.93" width="113.99" height="5.16" fill="#B3322A"/><rect x="871.31" y="1148.79" width="113.99" height="6.79" fill="#F7E2A4"/><rect x="871.31" y="1155.28" width="113.99" height="8.41" fill="#E98C64"/><rect x="871.31" y="1168.25" width="113.99" height="10.03" fill="#D8392B"/><rect x="871.31" y="1177.97" width="113.99" height="5.16" fill="#F6CFB0"/><rect x="871.31" y="1182.84" width="113.99" height="16.51" fill="#F4F1C9"/><rect x="871.31" y="1199.05" width="113.99" height="5.16" fill="#EFA283"/><rect x="871.31" y="1203.91" width="113.99" height="11.65" fill="#D8392B"/><rect x="871.31" y="1215.26" width="113.99" height="5.16" fill="#F6CFB0"/><rect x="871.31" y="1226.61" width="113.99" height="5.16" fill="#CDAA96"/><rect x="871.31" y="1231.48" width="113.99" height="11.65" fill="#F4F1C9"/><rect x="871.31" y="1242.82" width="113.99" height="6.79" fill="#AE9C98"/><rect x="871.31" y="1249.31" width="113.99" height="6.79" fill="#C6D8DA"/><rect x="871.31" y="1255.80" width="113.99" height="6.79" fill="#D69A84"/><rect x="871.31" y="1262.28" width="113.99" height="10.03" fill="#CDAA96"/><rect x="871.31" y="1278.49" width="113.99" height="5.81" fill="#CDE4EC"/><rect x="75.50" y="1292.11" width="113.99" height="6.79" fill="#F7E2A4"/><rect x="75.50" y="1301.83" width="113.99" height="10.03" fill="#CDAA96"/><rect x="75.50" y="1327.77" width="113.99" height="3.54" fill="#F5DDD0"/><rect x="75.50" y="1331.02" width="113.99" height="4.52" fill="#D69A84"/><rect x="75.50" y="1335.23" width="113.99" height="6.79" fill="#E3F1EB"/><rect x="75.50" y="1341.72" width="113.99" height="7.43" fill="#EDCFA2"/><rect x="75.50" y="1356.96" width="113.99" height="6.79" fill="#DD6650"/><rect x="75.50" y="1379.65" width="113.99" height="7.76" fill="#CDAA96"/><rect x="75.50" y="1434.78" width="113.99" height="7.76" fill="#EDCFA2"/><rect x="75.50" y="1442.24" width="113.99" height="7.43" fill="#C6D8DA"/><rect x="189.19" y="1284.00" width="113.99" height="8.41" fill="#E3F1EB"/><rect x="189.19" y="1292.11" width="113.99" height="14.89" fill="#EDCFA2"/><rect x="189.19" y="1319.67" width="113.99" height="8.41" fill="#DD6650"/><rect x="189.19" y="1337.50" width="113.99" height="10.03" fill="#D69A84"/><rect x="189.19" y="1347.23" width="113.99" height="5.16" fill="#F6CFB0"/><rect x="189.19" y="1352.09" width="113.99" height="8.41" fill="#B0604C"/><rect x="189.19" y="1360.20" width="113.99" height="27.86" fill="#F4F1C9"/><rect x="189.19" y="1387.76" width="113.99" height="7.43" fill="#CDAA96"/><rect x="189.19" y="1405.60" width="113.99" height="6.79" fill="#A56068"/><rect x="189.19" y="1423.43" width="113.99" height="5.16" fill="#D69A84"/><rect x="189.19" y="1433.81" width="113.99" height="7.76" fill="#EFA283"/><rect x="189.19" y="1441.26" width="113.99" height="5.16" fill="#F6CFB0"/><rect x="302.88" y="1284.00" width="113.99" height="16.51" fill="#F4F1C9"/><rect x="302.88" y="1311.56" width="113.99" height="5.81" fill="#B0604C"/><rect x="302.88" y="1317.07" width="113.99" height="4.52" fill="#F6CFB0"/><rect x="302.88" y="1321.29" width="113.99" height="10.03" fill="#CDAA96"/><rect x="302.88" y="1339.12" width="113.99" height="6.79" fill="#AE9C98"/><rect x="302.88" y="1436.40" width="113.99" height="10.03" fill="#E98C64"/><rect x="416.56" y="1288.86" width="113.99" height="10.03" fill="#E98C64"/><rect x="416.56" y="1313.18" width="113.99" height="5.16" fill="#E3F1EB"/><rect x="416.56" y="1347.23" width="113.99" height="5.16" fill="#EDCFA2"/><rect x="416.56" y="1373.17" width="113.99" height="6.79" fill="#EDCFA2"/><rect x="416.56" y="1400.73" width="113.99" height="5.16" fill="#F7E2A4"/><rect x="416.56" y="1405.60" width="113.99" height="13.27" fill="#EDCFA2"/><rect x="416.56" y="1418.57" width="113.99" height="9.05" fill="#E98C64"/><rect x="416.56" y="1439.64" width="113.99" height="10.03" fill="#F7E2A4"/><rect x="530.25" y="1292.11" width="113.99" height="6.79" fill="#F7E2A4"/><rect x="530.25" y="1303.46" width="113.99" height="10.03" fill="#E3F1EB"/><rect x="530.25" y="1391.00" width="113.99" height="8.41" fill="#EFA283"/><rect x="530.25" y="1402.35" width="113.99" height="4.52" fill="#EDCFA2"/><rect x="530.25" y="1420.19" width="113.99" height="4.19" fill="#EDCFA2"/><rect x="643.94" y="1293.73" width="113.99" height="5.16" fill="#F4F1C9"/><rect x="643.94" y="1306.70" width="113.99" height="23.00" fill="#F4F1C9"/><rect x="643.94" y="1329.40" width="113.99" height="8.41" fill="#EDCFA2"/><rect x="643.94" y="1373.17" width="113.99" height="5.16" fill="#EDCFA2"/><rect x="643.94" y="1402.35" width="113.99" height="8.41" fill="#EDCFA2"/><rect x="643.94" y="1434.78" width="113.99" height="6.79" fill="#F7E2A4"/><rect x="757.62" y="1284.00" width="113.99" height="3.54" fill="#CDAA96"/><rect x="757.62" y="1287.24" width="113.99" height="4.19" fill="#F6CFB0"/><rect x="757.62" y="1291.13" width="113.99" height="7.76" fill="#B4D6EA"/><rect x="757.62" y="1298.59" width="113.99" height="8.41" fill="#A56068"/><rect x="757.62" y="1306.70" width="113.99" height="5.16" fill="#F5DDD0"/><rect x="757.62" y="1316.43" width="113.99" height="6.79" fill="#CDAA96"/><rect x="757.62" y="1343.99" width="113.99" height="5.16" fill="#D69A84"/><rect x="757.62" y="1369.93" width="113.99" height="11.00" fill="#D69A84"/><rect x="757.62" y="1387.76" width="113.99" height="4.19" fill="#AE9C98"/><rect x="757.62" y="1391.65" width="113.99" height="8.73" fill="#DD6650"/><rect x="757.62" y="1400.08" width="113.99" height="4.19" fill="#F6CFB0"/><rect x="757.62" y="1415.32" width="113.99" height="5.16" fill="#B0604C"/><rect x="757.62" y="1420.19" width="113.99" height="6.79" fill="#E3F1EB"/><rect x="757.62" y="1426.67" width="113.99" height="9.38" fill="#D8392B"/><rect x="757.62" y="1435.75" width="113.99" height="6.79" fill="#CDE4EC"/><rect x="757.62" y="1442.24" width="113.99" height="5.81" fill="#EDCFA2"/><rect x="757.62" y="1447.75" width="113.99" height="5.16" fill="#B0604C"/><rect x="757.62" y="1452.61" width="113.99" height="4.19" fill="#F6CFB0"/><rect x="871.31" y="1284.00" width="113.99" height="8.41" fill="#D69A84"/><rect x="871.31" y="1292.11" width="113.99" height="6.79" fill="#B4D6EA"/><rect x="871.31" y="1306.70" width="113.99" height="5.16" fill="#F6CFB0"/><rect x="871.31" y="1311.56" width="113.99" height="9.05" fill="#E98C64"/><rect x="871.31" y="1320.32" width="113.99" height="6.14" fill="#E3F1EB"/><rect x="871.31" y="1326.15" width="113.99" height="6.79" fill="#BE9393"/><rect x="871.31" y="1332.64" width="113.99" height="5.16" fill="#C87C58"/><rect x="871.31" y="1337.50" width="113.99" height="11.65" fill="#F4F1C9"/><rect x="871.31" y="1348.85" width="113.99" height="6.79" fill="#BE9393"/><rect x="871.31" y="1363.44" width="113.99" height="7.76" fill="#B3322A"/><rect x="871.31" y="1370.90" width="113.99" height="4.19" fill="#F6CFB0"/><rect x="871.31" y="1374.79" width="113.99" height="6.79" fill="#EFA283"/><rect x="871.31" y="1381.28" width="113.99" height="6.14" fill="#BE9393"/><rect x="871.31" y="1387.11" width="113.99" height="4.19" fill="#C87C58"/><rect x="871.31" y="1391.00" width="113.99" height="8.41" fill="#F4F1C9"/><rect x="871.31" y="1399.11" width="113.99" height="7.76" fill="#BE9393"/><rect x="871.31" y="1412.08" width="113.99" height="5.16" fill="#B0604C"/><rect x="871.31" y="1429.91" width="113.99" height="6.79" fill="#F4F1C9"/><rect x="871.31" y="1436.40" width="113.99" height="5.16" fill="#C6D8DA"/><rect x="871.31" y="1449.37" width="113.99" height="3.54" fill="#EFA283"/><rect x="871.31" y="1452.61" width="113.99" height="4.19" fill="#B0604C"/></g>
<g shape-rendering="crispEdges"><rect x="36" y="154.4" width="32.5" height="56.8" fill="#FB8579"/><rect x="36" y="211" width="32.5" height="7.2" fill="#A4A468"/><rect x="36" y="218" width="32.5" height="58.2" fill="#2FCE45"/><rect x="36" y="276" width="32.5" height="7.2" fill="#A0C040"/><rect x="36" y="283" width="32.5" height="128.2" fill="#FCA12B"/><rect x="36" y="411" width="32.5" height="8.2" fill="#F57FCB"/><rect x="36" y="419" width="32.5" height="7.2" fill="#C89880"/><rect x="36" y="426" width="32.5" height="7.2" fill="#20C4C0"/><rect x="36" y="433" width="32.5" height="64.7" fill="#00C8F8"/><rect x="36" y="497.5" width="32.5" height="42.7" fill="#00D68A"/><rect x="36" y="540" width="32.5" height="136.7" fill="#00D4A8"/><rect x="36" y="676.5" width="32.5" height="7.2" fill="#8C9CC8"/><rect x="36" y="683.5" width="32.5" height="58.7" fill="#FF80D0"/><rect x="36" y="742" width="32.5" height="49.2" fill="#FB80F5"/><rect x="36" y="791" width="32.5" height="14.2" fill="#00D0C8"/><rect x="36" y="805" width="32.5" height="75.2" fill="#92A8FC"/><rect x="36" y="880" width="32.5" height="7.2" fill="#F09870"/><rect x="36" y="887" width="32.5" height="10.7" fill="#80A8B4"/><rect x="36" y="897.5" width="32.5" height="72.7" fill="#35B7F5"/><rect x="36" y="970" width="32.5" height="6.2" fill="#48C490"/><rect x="36" y="976" width="32.5" height="15.2" fill="#6CCB0C"/><rect x="36" y="991" width="32.5" height="57.6" fill="#D4AA00"/><rect x="36" y="1048.4" width="32.5" height="7.6" fill="#78C840"/><rect x="36" y="1055.8" width="32.5" height="7.2" fill="#A0C800"/><rect x="36" y="1062.8" width="32.5" height="7.2" fill="#E088C0"/><rect x="36" y="1069.8" width="32.5" height="35.6" fill="#FB7FF7"/><rect x="36" y="1105.2" width="32.5" height="157.7" fill="#E392F5"/><rect x="36" y="1262.7" width="32.5" height="82.5" fill="#E8AB02"/><rect x="36" y="1345" width="32.5" height="70.8" fill="#FA7FA8"/><rect x="36" y="1415.6" width="32.5" height="9.1" fill="#60A8D0"/><rect x="36" y="1424.5" width="32.5" height="32.2" fill="#07C4F5"/></g>
<path d="M241.9 44.7L870.5 44.7M241.9 44.7L241.9 69.8M870.5 44.7L870.5 65.6M133 69.8L353 69.8M133 69.8L133 154.4M353 69.8L353 87.6M245.5 87.6L459 87.6M245.5 87.6L245.5 154.4M459 87.6L459 93.4M359.7 93.4L558 93.4M359.7 93.4L359.7 154.4M558 93.4L558 112.7M473.5 112.7L643.5 112.7M473.5 112.7L473.5 154.4M643.5 112.7L643.5 119M586.5 119L701.6 119M586.5 119L586.5 154.4M701.6 119L701.6 154.4M814 65.6L927.6 65.6M814 65.6L814 154.4M927.6 65.6L927.6 154.4" stroke="#8a8a8a" stroke-width="3" fill="none" stroke-linecap="square"/>
<defs><linearGradient id="cs" x1="0" y1="1" x2="0" y2="0"><stop offset="0" stop-color="#4575B4"/><stop offset="0.1667" stop-color="#91BFDB"/><stop offset="0.3333" stop-color="#E0F3F8"/><stop offset="0.5" stop-color="#FFFFBF"/><stop offset="0.6667" stop-color="#FEE090"/><stop offset="0.8333" stop-color="#FC8D59"/><stop offset="1" stop-color="#D73027"/></linearGradient></defs>
<rect x="993.7" y="154.5" width="21" height="320.8" fill="url(#cs)"/>
<text x="1024" y="199.0" font-family="Liberation Sans, Arial, sans-serif" font-size="32" fill="#333">2</text>
<text x="1024" y="263.5" font-family="Liberation Sans, Arial, sans-serif" font-size="32" fill="#333">1</text>
<text x="1024" y="326.5" font-family="Liberation Sans, Arial, sans-serif" font-size="32" fill="#333">0</text>
<text x="1024" y="390.5" font-family="Liberation Sans, Arial, sans-serif" font-size="32" fill="#333">−1</text>
<text x="1024" y="456.5" font-family="Liberation Sans, Arial, sans-serif" font-size="32" fill="#333">−2</text>
<text x="1087" y="178.5" font-family="Liberation Sans, Arial, sans-serif" font-size="31" font-weight="bold" fill="#111">Group</text>
<g shape-rendering="crispEdges"><rect x="1087" y="190.80" width="45" height="45.9" fill="#FB8579"/><rect x="1087" y="236.43" width="45" height="45.9" fill="#2FCE45"/><rect x="1087" y="282.06" width="45" height="45.9" fill="#FCA12B"/><rect x="1087" y="327.69" width="45" height="45.9" fill="#F57FCB"/><rect x="1087" y="373.32" width="45" height="45.9" fill="#C0BE0A"/><rect x="1087" y="418.95" width="45" height="45.9" fill="#00D0E8"/><rect x="1087" y="464.58" width="45" height="45.9" fill="#00C8F8"/><rect x="1087" y="510.21" width="45" height="45.9" fill="#00D68A"/><rect x="1087" y="555.84" width="45" height="45.9" fill="#00D4A8"/><rect x="1087" y="601.47" width="45" height="45.9" fill="#FF80D0"/><rect x="1087" y="647.10" width="45" height="45.9" fill="#FB80F5"/><rect x="1087" y="692.73" width="45" height="45.9" fill="#00D0C8"/><rect x="1087" y="738.36" width="45" height="45.9" fill="#92A8FC"/><rect x="1087" y="783.99" width="45" height="45.9" fill="#FC9460"/><rect x="1087" y="829.62" width="45" height="45.9" fill="#35B7F5"/><rect x="1087" y="875.25" width="45" height="45.9" fill="#6CCB0C"/><rect x="1087" y="920.88" width="45" height="45.9" fill="#D4AA00"/><rect x="1087" y="966.51" width="45" height="45.9" fill="#00D97F"/><rect x="1087" y="1012.14" width="45" height="45.9" fill="#A0BE10"/><rect x="1087" y="1057.77" width="45" height="45.9" fill="#FB7BF5"/><rect x="1087" y="1103.40" width="45" height="45.9" fill="#E291F5"/><rect x="1087" y="1149.03" width="45" height="45.9" fill="#B99EF9"/><rect x="1087" y="1194.66" width="45" height="45.9" fill="#E6AB02"/><rect x="1087" y="1240.29" width="45" height="45.9" fill="#FA7FA8"/><rect x="1087" y="1285.92" width="45" height="45.9" fill="#07C4F5"/></g>
<text x="1141.3" y="224.70" font-family="Liberation Sans, Arial, sans-serif" font-size="32" fill="#222">Amino acid metabolism</text>
<text x="1141.3" y="270.33" font-family="Liberation Sans, Arial, sans-serif" font-size="32" fill="#222">Biosynthesis of other secondary metabolites</text>
<text x="1141.3" y="315.96" font-family="Liberation Sans, Arial, sans-serif" font-size="32" fill="#222">Carbohydrate metabolism</text>
<text x="1141.3" y="361.59" font-family="Liberation Sans, Arial, sans-serif" font-size="32" fill="#222">Cell growth and death</text>
<text x="1141.3" y="407.22" font-family="Liberation Sans, Arial, sans-serif" font-size="32" fill="#222">Cellular community − eukaryotes</text>
<text x="1141.3" y="452.85" font-family="Liberation Sans, Arial, sans-serif" font-size="32" fill="#222">Endocrine system</text>
<text x="1141.3" y="498.48" font-family="Liberation Sans, Arial, sans-serif" font-size="32" fill="#222">Energy metabolism</text>
<text x="1141.3" y="544.11" font-family="Liberation Sans, Arial, sans-serif" font-size="32" fill="#222">Environmental adaptation</text>
<text x="1141.3" y="589.74" font-family="Liberation Sans, Arial, sans-serif" font-size="32" fill="#222">Folding, sorting and degradation</text>
<text x="1141.3" y="635.37" font-family="Liberation Sans, Arial, sans-serif" font-size="32" fill="#222">Global and overview maps</text>
<text x="1141.3" y="681.00" font-family="Liberation Sans, Arial, sans-serif" font-size="32" fill="#222">Glycan biosynthesis and metabolism</text>
<text x="1141.3" y="726.63" font-family="Liberation Sans, Arial, sans-serif" font-size="32" fill="#222">Immune system</text>
<text x="1141.3" y="772.26" font-family="Liberation Sans, Arial, sans-serif" font-size="32" fill="#222">Lipid metabolism</text>
<text x="1141.3" y="817.89" font-family="Liberation Sans, Arial, sans-serif" font-size="32" fill="#222">Membrane transport</text>
<text x="1141.3" y="863.52" font-family="Liberation Sans, Arial, sans-serif" font-size="32" fill="#222">Metabolism of cofactors and vitamins</text>
<text x="1141.3" y="909.15" font-family="Liberation Sans, Arial, sans-serif" font-size="32" fill="#222">Metabolism of other amino acids</text>
<text x="1141.3" y="954.78" font-family="Liberation Sans, Arial, sans-serif" font-size="32" fill="#222">Metabolism of terpenoids and polyketides</text>
<text x="1141.3" y="1000.41" font-family="Liberation Sans, Arial, sans-serif" font-size="32" fill="#222">Nervous system</text>
<text x="1141.3" y="1046.04" font-family="Liberation Sans, Arial, sans-serif" font-size="32" fill="#222">Nucleotide metabolism</text>
<text x="1141.3" y="1091.67" font-family="Liberation Sans, Arial, sans-serif" font-size="32" fill="#222">Replication and repair</text>
<text x="1141.3" y="1137.30" font-family="Liberation Sans, Arial, sans-serif" font-size="32" fill="#222">Signal transduction</text>
<text x="1141.3" y="1182.93" font-family="Liberation Sans, Arial, sans-serif" font-size="32" fill="#222">Signaling molecules and interaction</text>
<text x="1141.3" y="1228.56" font-family="Liberation Sans, Arial, sans-serif" font-size="32" fill="#222">Transcription</text>
<text x="1141.3" y="1274.19" font-family="Liberation Sans, Arial, sans-serif" font-size="32" fill="#222">Translation</text>
<text x="1141.3" y="1319.82" font-family="Liberation Sans, Arial, sans-serif" font-size="32" fill="#222">Transport and catabolism</text>
<text transform="translate(120.8,1463) rotate(90)" font-family="Liberation Sans, Arial, sans-serif" font-size="32" fill="#222">WXY</text>
<text transform="translate(234.5,1463) rotate(90)" font-family="Liberation Sans, Arial, sans-serif" font-size="32" fill="#222">DY</text>
<text transform="translate(348.2,1463) rotate(90)" font-family="Liberation Sans, Arial, sans-serif" font-size="32" fill="#222">CK</text>
<text transform="translate(461.9,1463) rotate(90)" font-family="Liberation Sans, Arial, sans-serif" font-size="32" fill="#222">WX</text>
<text transform="translate(575.6,1463) rotate(90)" font-family="Liberation Sans, Arial, sans-serif" font-size="32" fill="#222">FJ</text>
<text transform="translate(689.3,1463) rotate(90)" font-family="Liberation Sans, Arial, sans-serif" font-size="32" fill="#222">NL</text>
<text transform="translate(803.0,1463) rotate(90)" font-family="Liberation Sans, Arial, sans-serif" font-size="32" fill="#222">TB</text>
<text transform="translate(916.7,1463) rotate(90)" font-family="Liberation Sans, Arial, sans-serif" font-size="32" fill="#222">GY</text>
<text transform="translate(42.5,1465) rotate(90)" font-family="Liberation Sans, Arial, sans-serif" font-size="32" font-weight="bold" fill="#111">Group</text>
<text x="1754" y="128.6" font-family="Liberation Serif, Times New Roman, serif" font-size="145" fill="#000">A</text>
<line x1="259.4" y1="1698.0" x2="259.4" y2="3344.0" stroke="#ebebeb" stroke-width="2.6"/><line x1="558.7" y1="1698.0" x2="558.7" y2="3344.0" stroke="#ebebeb" stroke-width="2.6"/><line x1="858.0" y1="1698.0" x2="858.0" y2="3344.0" stroke="#ebebeb" stroke-width="2.6"/><line x1="1157.3" y1="1698.0" x2="1157.3" y2="3344.0" stroke="#ebebeb" stroke-width="2.6"/><line x1="1456.6" y1="1698.0" x2="1456.6" y2="3344.0" stroke="#ebebeb" stroke-width="2.6"/><line x1="409.1" y1="1698.0" x2="409.1" y2="3344.0" stroke="#f0f0f0" stroke-width="1.6"/><line x1="708.4" y1="1698.0" x2="708.4" y2="3344.0" stroke="#f0f0f0" stroke-width="1.6"/><line x1="1007.6" y1="1698.0" x2="1007.6" y2="3344.0" stroke="#f0f0f0" stroke-width="1.6"/><line x1="1307.0" y1="1698.0" x2="1307.0" y2="3344.0" stroke="#f0f0f0" stroke-width="1.6"/><line x1="1606.2" y1="1698.0" x2="1606.2" y2="3344.0" stroke="#f0f0f0" stroke-width="1.6"/><line x1="230.0" y1="2004.7" x2="1610.5" y2="2004.7" stroke="#ebebeb" stroke-width="2.6"/><line x1="230.0" y1="2339.5" x2="1610.5" y2="2339.5" stroke="#ebebeb" stroke-width="2.6"/><line x1="230.0" y1="2674.3" x2="1610.5" y2="2674.3" stroke="#ebebeb" stroke-width="2.6"/><line x1="230.0" y1="3009.1" x2="1610.5" y2="3009.1" stroke="#ebebeb" stroke-width="2.6"/><line x1="230.0" y1="3343.9" x2="1610.5" y2="3343.9" stroke="#ebebeb" stroke-width="2.6"/><line x1="230.0" y1="1837.3" x2="1610.5" y2="1837.3" stroke="#f0f0f0" stroke-width="1.6"/><line x1="230.0" y1="2172.1" x2="1610.5" y2="2172.1" stroke="#f0f0f0" stroke-width="1.6"/><line x1="230.0" y1="2506.9" x2="1610.5" y2="2506.9" stroke="#f0f0f0" stroke-width="1.6"/><line x1="230.0" y1="2841.7" x2="1610.5" y2="2841.7" stroke="#f0f0f0" stroke-width="1.6"/><line x1="230.0" y1="3176.5" x2="1610.5" y2="3176.5" stroke="#f0f0f0" stroke-width="1.6"/>
<line x1="858.0" y1="1698.0" x2="858.0" y2="3344.0" stroke="#a8a8a8" stroke-width="3" stroke-dasharray="23.8 18.8 5.4 18.4" stroke-dashoffset="60.2"/>
<line x1="230.0" y1="2339.5" x2="1610.5" y2="2339.5" stroke="#a8a8a8" stroke-width="3" stroke-dasharray="23.8 18.8 5.4 18.4" stroke-dashoffset="40.7"/>
<circle cx="756.7" cy="2100.0" r="16.5" fill="#F8766D"/><circle cx="763.2" cy="2550.8" r="16.5" fill="#F8766D"/><circle cx="668.0" cy="2189.8" r="16.5" fill="#F8766D"/><circle cx="763.2" cy="2318.3" r="16.5" fill="#CD9600"/><circle cx="409.2" cy="3269.7" r="16.5" fill="#CD9600"/><circle cx="602.4" cy="2698.4" r="16.5" fill="#CD9600"/><circle cx="716.5" cy="2058.0" r="16.5" fill="#7CAE00"/><circle cx="810.6" cy="1957.7" r="16.5" fill="#7CAE00"/><circle cx="796.7" cy="1772.3" r="16.5" fill="#7CAE00"/><circle cx="1448.8" cy="2128.0" r="16.5" fill="#00BE67"/><circle cx="1219.8" cy="2611.7" r="16.5" fill="#00BE67"/><circle cx="1350.5" cy="2132.3" r="16.5" fill="#00BE67"/><circle cx="723.0" cy="2069.0" r="16.5" fill="#00BFC4"/><circle cx="797.8" cy="2014.4" r="16.5" fill="#00BFC4"/><circle cx="641.0" cy="2177.0" r="16.5" fill="#00BFC4"/><circle cx="1484.6" cy="2818.4" r="16.5" fill="#00A9FF"/><circle cx="1548.7" cy="2658.0" r="16.5" fill="#00A9FF"/><circle cx="1543.4" cy="2684.7" r="16.5" fill="#00A9FF"/><circle cx="748.6" cy="2023.0" r="16.5" fill="#C77CFF"/><circle cx="538.4" cy="2256.8" r="16.5" fill="#C77CFF"/><circle cx="560.6" cy="2178.4" r="16.5" fill="#C77CFF"/><circle cx="638.2" cy="2153.6" r="16.5" fill="#FF61CC"/><circle cx="293.0" cy="3249.4" r="16.5" fill="#FF61CC"/><circle cx="749.7" cy="2054.0" r="16.5" fill="#FF61CC"/>
<line x1="756.7" y1="2117" x2="756.7" y2="2140" stroke="#F8766D" stroke-width="2"/>
<text x="762.4" y="2163.2" font-family="Liberation Sans, Arial, sans-serif" font-size="38.3" fill="#F8766D">CK1</text>
<text x="748.6" y="2537.5" font-family="Liberation Sans, Arial, sans-serif" font-size="38.3" fill="#F8766D">CK2</text>
<line x1="680" y1="2205" x2="688" y2="2219" stroke="#F8766D" stroke-width="2"/>
<text x="672.6" y="2250.2" font-family="Liberation Sans, Arial, sans-serif" font-size="38.3" fill="#F8766D">CK3</text>
<text x="700.5" y="2367.3" font-family="Liberation Sans, Arial, sans-serif" font-size="38.3" fill="#CD9600">DY1</text>
<text x="396.6" y="3313.4" font-family="Liberation Sans, Arial, sans-serif" font-size="38.3" fill="#CD9600">DY2</text>
<text x="540.1" y="2743.2" font-family="Liberation Sans, Arial, sans-serif" font-size="38.3" fill="#CD9600">DY3</text>
<line x1="690" y1="2047" x2="705" y2="2052" stroke="#7CAE00" stroke-width="2"/>
<text x="626.6" y="2056.6" font-family="Liberation Sans, Arial, sans-serif" font-size="38.3" fill="#7CAE00">FJ1</text>
<text x="800.8" y="1945.6" font-family="Liberation Sans, Arial, sans-serif" font-size="38.3" fill="#7CAE00">FJ2</text>
<text x="787.8" y="1755.4" font-family="Liberation Sans, Arial, sans-serif" font-size="38.3" fill="#7CAE00">FJ3</text>
<text x="1436.8" y="2112.9" font-family="Liberation Sans, Arial, sans-serif" font-size="38.3" fill="#00BE67">GY1</text>
<text x="1159.1" y="2653.6" font-family="Liberation Sans, Arial, sans-serif" font-size="38.3" fill="#00BE67">GY2</text>
<text x="1287.3" y="2176.0" font-family="Liberation Sans, Arial, sans-serif" font-size="38.3" fill="#00BE67">GY3</text>
<text x="674.8" y="2112.6" font-family="Liberation Sans, Arial, sans-serif" font-size="38.3" fill="#00BFC4">LJ1</text>
<text x="813.8" y="2001.4" font-family="Liberation Sans, Arial, sans-serif" font-size="38.3" fill="#00BFC4">LJ2</text>
<text x="582.8" y="2218.6" font-family="Liberation Sans, Arial, sans-serif" font-size="38.3" fill="#00BFC4">LJ3</text>
<text x="1408.6" y="2862.0" font-family="Liberation Sans, Arial, sans-serif" font-size="38.3" fill="#00A9FF">TBX1</text>
<text x="1501.2" y="2644.6" font-family="Liberation Sans, Arial, sans-serif" font-size="38.3" fill="#00A9FF">TBX2</text>
<text x="1469.1" y="2728.4" font-family="Liberation Sans, Arial, sans-serif" font-size="38.3" fill="#00A9FF">TBX3</text>
<text x="701.4" y="2001.4" font-family="Liberation Sans, Arial, sans-serif" font-size="38.3" fill="#C77CFF">WX1</text>
<text x="519.8" y="2298.6" font-family="Liberation Sans, Arial, sans-serif" font-size="38.3" fill="#C77CFF">WX2</text>
<text x="471.6" y="2220.2" font-family="Liberation Sans, Arial, sans-serif" font-size="38.3" fill="#C77CFF">WX3</text>
<line x1="638.2" y1="2124" x2="638.2" y2="2137" stroke="#FF61CC" stroke-width="2"/>
<text x="537.2" y="2138.6" font-family="Liberation Sans, Arial, sans-serif" font-size="38.3" fill="#FF61CC">WXY1</text>
<text x="259.8" y="3233.2" font-family="Liberation Sans, Arial, sans-serif" font-size="38.3" fill="#FF61CC">WXY2</text>
<text x="767.8" y="2061.2" font-family="Liberation Sans, Arial, sans-serif" font-size="38.3" fill="#FF61CC">WXY3</text>
<rect x="230.0" y="1698.0" width="1380.5" height="1646.0" fill="none" stroke="#808080" stroke-width="3"/>
<line x1="259.4" y1="3344.0" x2="259.4" y2="3354.0" stroke="#7a7a7a" stroke-width="3"/><text x="259.4" y="3385" text-anchor="middle" font-family="Liberation Sans, Arial, sans-serif" font-size="33" fill="#4d4d4d">−100</text><line x1="558.7" y1="3344.0" x2="558.7" y2="3354.0" stroke="#7a7a7a" stroke-width="3"/><text x="558.7" y="3385" text-anchor="middle" font-family="Liberation Sans, Arial, sans-serif" font-size="33" fill="#4d4d4d">−50</text><line x1="858.0" y1="3344.0" x2="858.0" y2="3354.0" stroke="#7a7a7a" stroke-width="3"/><text x="858.0" y="3385" text-anchor="middle" font-family="Liberation Sans, Arial, sans-serif" font-size="33" fill="#4d4d4d">0</text><line x1="1157.3" y1="3344.0" x2="1157.3" y2="3354.0" stroke="#7a7a7a" stroke-width="3"/><text x="1157.3" y="3385" text-anchor="middle" font-family="Liberation Sans, Arial, sans-serif" font-size="33" fill="#4d4d4d">50</text><line x1="1456.6" y1="3344.0" x2="1456.6" y2="3354.0" stroke="#7a7a7a" stroke-width="3"/><text x="1456.6" y="3385" text-anchor="middle" font-family="Liberation Sans, Arial, sans-serif" font-size="33" fill="#4d4d4d">100</text><line x1="220.0" y1="2004.7" x2="230.0" y2="2004.7" stroke="#7a7a7a" stroke-width="3"/><text x="211.5" y="2016.7" text-anchor="end" font-family="Liberation Sans, Arial, sans-serif" font-size="33" fill="#4d4d4d">40</text><line x1="220.0" y1="2339.5" x2="230.0" y2="2339.5" stroke="#7a7a7a" stroke-width="3"/><text x="211.5" y="2351.5" text-anchor="end" font-family="Liberation Sans, Arial, sans-serif" font-size="33" fill="#4d4d4d">0</text><line x1="220.0" y1="2674.3" x2="230.0" y2="2674.3" stroke="#7a7a7a" stroke-width="3"/><text x="211.5" y="2686.3" text-anchor="end" font-family="Liberation Sans, Arial, sans-serif" font-size="33" fill="#4d4d4d">−40</text><line x1="220.0" y1="3009.1" x2="230.0" y2="3009.1" stroke="#7a7a7a" stroke-width="3"/><text x="211.5" y="3021.1" text-anchor="end" font-family="Liberation Sans, Arial, sans-serif" font-size="33" fill="#4d4d4d">−80</text><line x1="220.0" y1="3343.9" x2="230.0" y2="3343.9" stroke="#7a7a7a" stroke-width="3"/><text x="211.5" y="3355.9" text-anchor="end" font-family="Liberation Sans, Arial, sans-serif" font-size="33" fill="#4d4d4d">−120</text>
<text x="922" y="3431.3" text-anchor="middle" font-family="Liberation Sans, Arial, sans-serif" font-size="39.8" fill="#1a1a1a">PC1 (13.83%)</text>
<text transform="translate(122,2522) rotate(-90)" text-anchor="middle" font-family="Liberation Sans, Arial, sans-serif" font-size="39.6" fill="#1a1a1a">PC2 (8.23%)</text>
<text x="1666" y="2282.3" font-family="Liberation Sans, Arial, sans-serif" font-size="40.4" fill="#1a1a1a">group</text>
<circle cx="1700" cy="2335.0" r="17.5" fill="#F8766D"/>
<text x="1749.5" y="2346.5" font-family="Liberation Sans, Arial, sans-serif" font-size="32" fill="#1a1a1a">CK</text>
<circle cx="1700" cy="2396.2" r="17.5" fill="#CD9600"/>
<text x="1749.5" y="2407.7" font-family="Liberation Sans, Arial, sans-serif" font-size="32" fill="#1a1a1a">DY</text>
<circle cx="1700" cy="2457.3" r="17.5" fill="#7CAE00"/>
<text x="1749.5" y="2468.8" font-family="Liberation Sans, Arial, sans-serif" font-size="32" fill="#1a1a1a">FJ</text>
<circle cx="1700" cy="2518.4" r="17.5" fill="#00BE67"/>
<text x="1749.5" y="2529.9" font-family="Liberation Sans, Arial, sans-serif" font-size="32" fill="#1a1a1a">GY</text>
<circle cx="1700" cy="2579.6" r="17.5" fill="#00BFC4"/>
<text x="1749.5" y="2591.1" font-family="Liberation Sans, Arial, sans-serif" font-size="32" fill="#1a1a1a">LJ</text>
<circle cx="1700" cy="2640.8" r="17.5" fill="#00A9FF"/>
<text x="1749.5" y="2652.2" font-family="Liberation Sans, Arial, sans-serif" font-size="32" fill="#1a1a1a">TBX</text>
<circle cx="1700" cy="2701.9" r="17.5" fill="#C77CFF"/>
<text x="1749.5" y="2713.4" font-family="Liberation Sans, Arial, sans-serif" font-size="32" fill="#1a1a1a">WX</text>
<circle cx="1700" cy="2763.1" r="17.5" fill="#FF61CC"/>
<text x="1749.5" y="2774.6" font-family="Liberation Sans, Arial, sans-serif" font-size="32" fill="#1a1a1a">WXY</text>
<text x="1771.5" y="1817.2" font-family="Liberation Serif, Times New Roman, serif" font-size="145" fill="#000">B</text>
</svg></body></html>
